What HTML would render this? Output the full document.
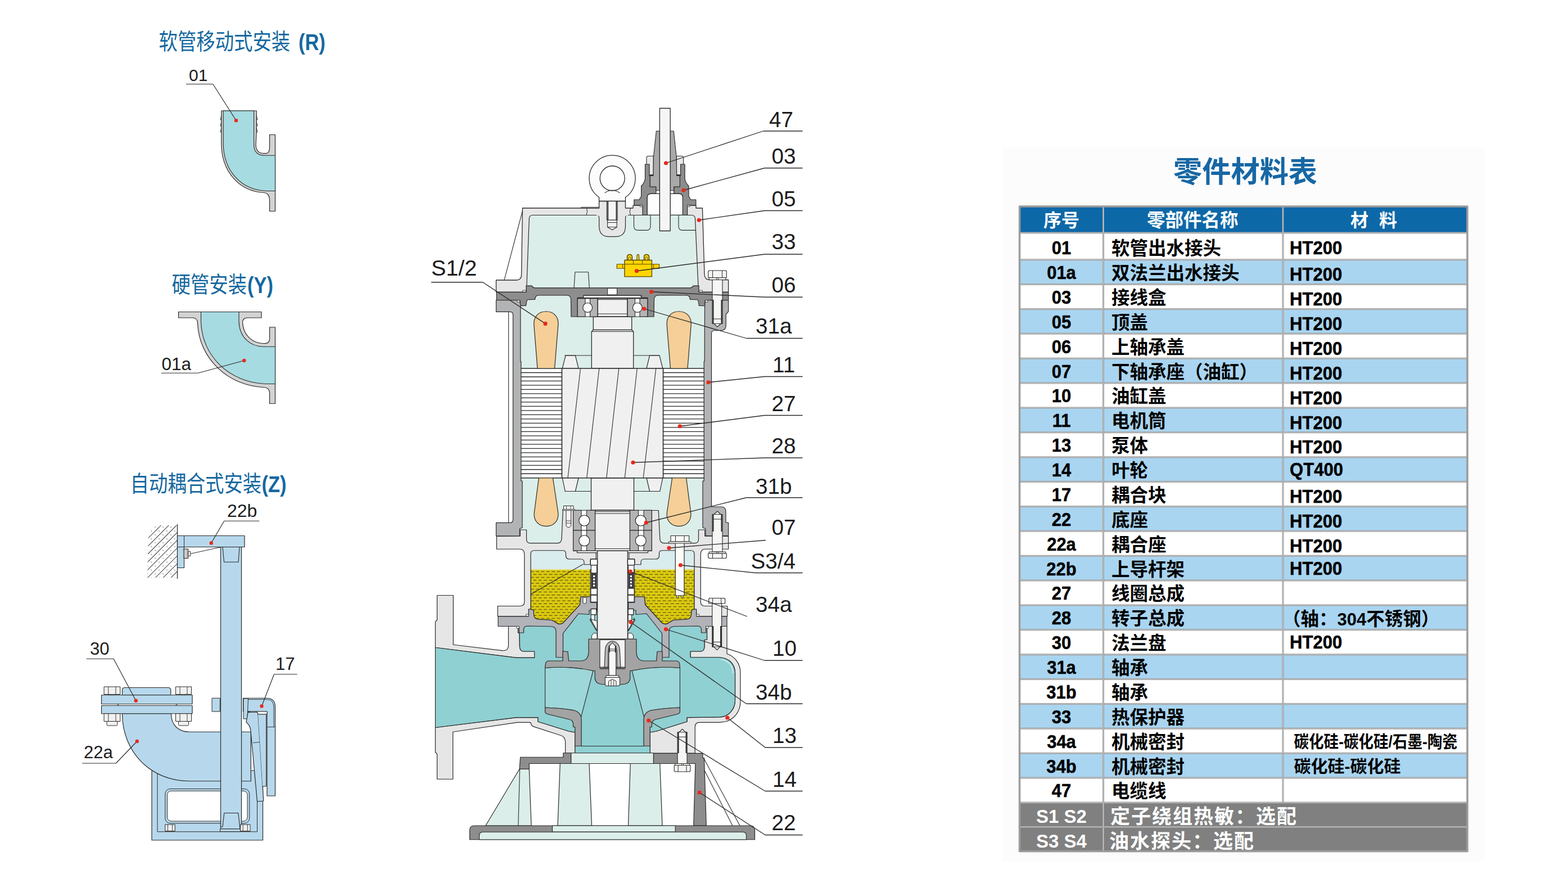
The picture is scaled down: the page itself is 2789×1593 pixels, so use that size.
<!DOCTYPE html>
<html lang="zh"><head><meta charset="utf-8"><title>零件材料表</title><style>html,body{margin:0;padding:0;background:#fff}body{width:2789px;height:1593px;overflow:hidden;font-family:"Liberation Sans","Noto Sans CJK SC",sans-serif}svg{display:block}</style></head><body><svg width="2789" height="1593" viewBox="0 0 2789 1593" font-family="'Liberation Sans', 'Noto Sans CJK SC', sans-serif" stroke-linejoin="round"><rect x="1783" y="262" width="858" height="1270" fill="#fcfcfc"/><rect x="1813.5" y="367" width="796.5" height="47" fill="#0d68a8" stroke="none" stroke-width="0"/><text x="1856" y="402.5" font-size="32" font-weight="bold" fill="#fff">序号</text><text x="2040" y="402.5" font-size="32.5" font-weight="bold" fill="#fff">零部件名称</text><text x="2402" y="402.5" font-size="32" font-weight="bold" fill="#fff">材</text><text x="2453" y="402.5" font-size="32" font-weight="bold" fill="#fff">料</text><rect x="1813.5" y="414" width="796.5" height="47.7" fill="#ffffff" stroke="none" stroke-width="0"/><text transform="translate(1888 451.7) scale(0.95 1)" font-size="32.6" font-weight="bold" fill="#000" stroke="#000" stroke-width="0.5" text-anchor="middle">01</text><text x="1977" y="452.7" font-size="32.5" font-weight="bold" fill="#000">软管出水接头</text><text transform="translate(2294 451.8) scale(0.96 1)" font-size="32.4" font-weight="bold" fill="#000" stroke="#000" stroke-width="0.5">HT200</text><rect x="1813.5" y="461.7" width="796.5" height="43.88" fill="#a9d5f1" stroke="none" stroke-width="0"/><text transform="translate(1888 496.0) scale(0.95 1)" font-size="32.6" font-weight="bold" fill="#000" stroke="#000" stroke-width="0.5" text-anchor="middle">01a</text><text x="1977" y="497.0" font-size="32.5" font-weight="bold" fill="#000">双法兰出水接头</text><text transform="translate(2294 499.3) scale(0.96 1)" font-size="32.4" font-weight="bold" fill="#000" stroke="#000" stroke-width="0.5">HT200</text><rect x="1813.5" y="505.58" width="796.5" height="43.87" fill="#ffffff" stroke="none" stroke-width="0"/><text transform="translate(1888 539.9) scale(0.95 1)" font-size="32.6" font-weight="bold" fill="#000" stroke="#000" stroke-width="0.5" text-anchor="middle">03</text><text x="1977" y="540.9" font-size="32.5" font-weight="bold" fill="#000">接线盒</text><text transform="translate(2294 543.2) scale(0.96 1)" font-size="32.4" font-weight="bold" fill="#000" stroke="#000" stroke-width="0.5">HT200</text><rect x="1813.5" y="549.45" width="796.5" height="43.88" fill="#a9d5f1" stroke="none" stroke-width="0"/><text transform="translate(1888 583.8) scale(0.95 1)" font-size="32.6" font-weight="bold" fill="#000" stroke="#000" stroke-width="0.5" text-anchor="middle">05</text><text x="1977" y="584.8" font-size="32.5" font-weight="bold" fill="#000">顶盖</text><text transform="translate(2294 587.1) scale(0.96 1)" font-size="32.4" font-weight="bold" fill="#000" stroke="#000" stroke-width="0.5">HT200</text><rect x="1813.5" y="593.33" width="796.5" height="43.88" fill="#ffffff" stroke="none" stroke-width="0"/><text transform="translate(1888 627.6) scale(0.95 1)" font-size="32.6" font-weight="bold" fill="#000" stroke="#000" stroke-width="0.5" text-anchor="middle">06</text><text x="1977" y="628.6" font-size="32.5" font-weight="bold" fill="#000">上轴承盖</text><text transform="translate(2294 630.9) scale(0.96 1)" font-size="32.4" font-weight="bold" fill="#000" stroke="#000" stroke-width="0.5">HT200</text><rect x="1813.5" y="637.21" width="796.5" height="43.88" fill="#a9d5f1" stroke="none" stroke-width="0"/><text transform="translate(1888 671.5) scale(0.95 1)" font-size="32.6" font-weight="bold" fill="#000" stroke="#000" stroke-width="0.5" text-anchor="middle">07</text><text x="1977" y="672.5" font-size="32.5" font-weight="bold" fill="#000">下轴承座（油缸）</text><text transform="translate(2294 674.8) scale(0.96 1)" font-size="32.4" font-weight="bold" fill="#000" stroke="#000" stroke-width="0.5">HT200</text><rect x="1813.5" y="681.09" width="796.5" height="43.87" fill="#ffffff" stroke="none" stroke-width="0"/><text transform="translate(1888 715.4) scale(0.95 1)" font-size="32.6" font-weight="bold" fill="#000" stroke="#000" stroke-width="0.5" text-anchor="middle">10</text><text x="1977" y="716.4" font-size="32.5" font-weight="bold" fill="#000">油缸盖</text><text transform="translate(2294 718.7) scale(0.96 1)" font-size="32.4" font-weight="bold" fill="#000" stroke="#000" stroke-width="0.5">HT200</text><rect x="1813.5" y="724.96" width="796.5" height="43.88" fill="#a9d5f1" stroke="none" stroke-width="0"/><text transform="translate(1888 759.3) scale(0.95 1)" font-size="32.6" font-weight="bold" fill="#000" stroke="#000" stroke-width="0.5" text-anchor="middle">11</text><text x="1977" y="760.3" font-size="32.5" font-weight="bold" fill="#000">电机筒</text><text transform="translate(2294 762.6) scale(0.96 1)" font-size="32.4" font-weight="bold" fill="#000" stroke="#000" stroke-width="0.5">HT200</text><rect x="1813.5" y="768.84" width="796.5" height="43.88" fill="#ffffff" stroke="none" stroke-width="0"/><text transform="translate(1888 803.1) scale(0.95 1)" font-size="32.6" font-weight="bold" fill="#000" stroke="#000" stroke-width="0.5" text-anchor="middle">13</text><text x="1977" y="804.1" font-size="32.5" font-weight="bold" fill="#000">泵体</text><text transform="translate(2294 806.4) scale(0.96 1)" font-size="32.4" font-weight="bold" fill="#000" stroke="#000" stroke-width="0.5">HT200</text><rect x="1813.5" y="812.72" width="796.5" height="43.88" fill="#a9d5f1" stroke="none" stroke-width="0"/><text transform="translate(1888 847.0) scale(0.95 1)" font-size="32.6" font-weight="bold" fill="#000" stroke="#000" stroke-width="0.5" text-anchor="middle">14</text><text x="1977" y="848.0" font-size="32.5" font-weight="bold" fill="#000">叶轮</text><text transform="translate(2294 846.2) scale(0.96 1)" font-size="32.4" font-weight="bold" fill="#000" stroke="#000" stroke-width="0.5">QT400</text><rect x="1813.5" y="856.6" width="796.5" height="43.87" fill="#ffffff" stroke="none" stroke-width="0"/><text transform="translate(1888 890.9) scale(0.95 1)" font-size="32.6" font-weight="bold" fill="#000" stroke="#000" stroke-width="0.5" text-anchor="middle">17</text><text x="1977" y="891.9" font-size="32.5" font-weight="bold" fill="#000">耦合块</text><text transform="translate(2294 894.2) scale(0.96 1)" font-size="32.4" font-weight="bold" fill="#000" stroke="#000" stroke-width="0.5">HT200</text><rect x="1813.5" y="900.47" width="796.5" height="43.88" fill="#a9d5f1" stroke="none" stroke-width="0"/><text transform="translate(1888 934.8) scale(0.95 1)" font-size="32.6" font-weight="bold" fill="#000" stroke="#000" stroke-width="0.5" text-anchor="middle">22</text><text x="1977" y="935.8" font-size="32.5" font-weight="bold" fill="#000">底座</text><text transform="translate(2294 938.1) scale(0.96 1)" font-size="32.4" font-weight="bold" fill="#000" stroke="#000" stroke-width="0.5">HT200</text><rect x="1813.5" y="944.35" width="796.5" height="43.88" fill="#ffffff" stroke="none" stroke-width="0"/><text transform="translate(1888 978.6) scale(0.95 1)" font-size="32.6" font-weight="bold" fill="#000" stroke="#000" stroke-width="0.5" text-anchor="middle">22a</text><text x="1977" y="979.6" font-size="32.5" font-weight="bold" fill="#000">耦合座</text><text transform="translate(2294 981.9) scale(0.96 1)" font-size="32.4" font-weight="bold" fill="#000" stroke="#000" stroke-width="0.5">HT200</text><rect x="1813.5" y="988.23" width="796.5" height="43.87" fill="#a9d5f1" stroke="none" stroke-width="0"/><text transform="translate(1888 1022.5) scale(0.95 1)" font-size="32.6" font-weight="bold" fill="#000" stroke="#000" stroke-width="0.5" text-anchor="middle">22b</text><text x="1977" y="1023.5" font-size="32.5" font-weight="bold" fill="#000">上导杆架</text><text transform="translate(2294 1021.7) scale(0.96 1)" font-size="32.4" font-weight="bold" fill="#000" stroke="#000" stroke-width="0.5">HT200</text><rect x="1813.5" y="1032.1" width="796.5" height="43.88" fill="#ffffff" stroke="none" stroke-width="0"/><text transform="translate(1888 1066.4) scale(0.95 1)" font-size="32.6" font-weight="bold" fill="#000" stroke="#000" stroke-width="0.5" text-anchor="middle">27</text><text x="1977" y="1067.4" font-size="32.5" font-weight="bold" fill="#000">线圈总成</text><rect x="1813.5" y="1075.98" width="796.5" height="43.88" fill="#a9d5f1" stroke="none" stroke-width="0"/><text transform="translate(1888 1110.3) scale(0.95 1)" font-size="32.6" font-weight="bold" fill="#000" stroke="#000" stroke-width="0.5" text-anchor="middle">28</text><text x="1977" y="1111.3" font-size="32.5" font-weight="bold" fill="#000">转子总成</text><text x="2281" y="1111.5" font-size="32.5" font-weight="bold" fill="#000">（轴：</text><text x="2378.5" y="1111.5" font-size="31" font-weight="bold" fill="#000">304</text><text x="2430.2" y="1111.5" font-size="32.5" font-weight="bold" fill="#000">不锈钢）</text><rect x="1813.5" y="1119.86" width="796.5" height="43.88" fill="#ffffff" stroke="none" stroke-width="0"/><text transform="translate(1888 1154.2) scale(0.95 1)" font-size="32.6" font-weight="bold" fill="#000" stroke="#000" stroke-width="0.5" text-anchor="middle">30</text><text x="1977" y="1155.2" font-size="32.5" font-weight="bold" fill="#000">法兰盘</text><text transform="translate(2294 1153.4) scale(0.96 1)" font-size="32.4" font-weight="bold" fill="#000" stroke="#000" stroke-width="0.5">HT200</text><rect x="1813.5" y="1163.74" width="796.5" height="43.87" fill="#a9d5f1" stroke="none" stroke-width="0"/><text transform="translate(1888 1198.0) scale(0.95 1)" font-size="32.6" font-weight="bold" fill="#000" stroke="#000" stroke-width="0.5" text-anchor="middle">31a</text><text x="1977" y="1199.0" font-size="32.5" font-weight="bold" fill="#000">轴承</text><rect x="1813.5" y="1207.61" width="796.5" height="43.88" fill="#ffffff" stroke="none" stroke-width="0"/><text transform="translate(1888 1241.9) scale(0.95 1)" font-size="32.6" font-weight="bold" fill="#000" stroke="#000" stroke-width="0.5" text-anchor="middle">31b</text><text x="1977" y="1242.9" font-size="32.5" font-weight="bold" fill="#000">轴承</text><rect x="1813.5" y="1251.49" width="796.5" height="43.88" fill="#a9d5f1" stroke="none" stroke-width="0"/><text transform="translate(1888 1285.8) scale(0.95 1)" font-size="32.6" font-weight="bold" fill="#000" stroke="#000" stroke-width="0.5" text-anchor="middle">33</text><text x="1977" y="1286.8" font-size="32.5" font-weight="bold" fill="#000">热保护器</text><rect x="1813.5" y="1295.37" width="796.5" height="43.88" fill="#ffffff" stroke="none" stroke-width="0"/><text transform="translate(1888 1329.7) scale(0.95 1)" font-size="32.6" font-weight="bold" fill="#000" stroke="#000" stroke-width="0.5" text-anchor="middle">34a</text><text x="1977" y="1330.7" font-size="32.5" font-weight="bold" fill="#000">机械密封</text><text transform="translate(2301.5 1329.0) scale(0.885 1)" font-size="30" font-weight="bold" fill="#000">碳化硅</text><text transform="translate(2381.2 1329.0) scale(0.885 1)" font-size="30" font-weight="bold" fill="#000">-</text><text transform="translate(2390.0 1329.0) scale(0.885 1)" font-size="30" font-weight="bold" fill="#000">碳化硅</text><text transform="translate(2469.6 1329.0) scale(0.885 1)" font-size="30" font-weight="bold" fill="#000">/</text><text transform="translate(2477.0 1329.0) scale(0.885 1)" font-size="30" font-weight="bold" fill="#000">石墨</text><text transform="translate(2530.1 1329.0) scale(0.885 1)" font-size="30" font-weight="bold" fill="#000">-</text><text transform="translate(2539.0 1329.0) scale(0.885 1)" font-size="30" font-weight="bold" fill="#000">陶瓷</text><rect x="1813.5" y="1339.25" width="796.5" height="43.87" fill="#a9d5f1" stroke="none" stroke-width="0"/><text transform="translate(1888 1373.5) scale(0.95 1)" font-size="32.6" font-weight="bold" fill="#000" stroke="#000" stroke-width="0.5" text-anchor="middle">34b</text><text x="1977" y="1374.5" font-size="32.5" font-weight="bold" fill="#000">机械密封</text><text x="2301.5" y="1372.8" font-size="30" font-weight="bold" fill="#000">碳化硅</text><text x="2391.5" y="1372.8" font-size="30" font-weight="bold" fill="#000">-</text><text x="2401.5" y="1372.8" font-size="30" font-weight="bold" fill="#000">碳化硅</text><rect x="1813.5" y="1383.12" width="796.5" height="43.88" fill="#ffffff" stroke="none" stroke-width="0"/><text transform="translate(1888 1417.4) scale(0.95 1)" font-size="32.6" font-weight="bold" fill="#000" stroke="#000" stroke-width="0.5" text-anchor="middle">47</text><text x="1977" y="1418.4" font-size="32.5" font-weight="bold" fill="#000">电缆线</text><rect x="1813.5" y="1427.0" width="796.5" height="86.5" fill="#808080" stroke="none" stroke-width="0"/><text x="1888" y="1463.0" font-size="33" font-weight="bold" fill="#fff" text-anchor="middle">S1 S2</text><text x="1888" y="1506.7" font-size="33" font-weight="bold" fill="#fff" text-anchor="middle">S3 S4</text><text x="1975" y="1464.0" font-size="35" font-weight="bold" fill="#fff" letter-spacing="2">定子绕组热敏：选配</text><text x="1973" y="1507.7" font-size="35" font-weight="bold" fill="#fff" letter-spacing="2">油水探头：选配</text><line x1="1813.5" y1="414" x2="2610" y2="414" stroke="#9c9c9c" stroke-width="3"/><line x1="1813.5" y1="414" x2="2610" y2="414" stroke="#c9c9c9" stroke-width="1"/><line x1="1813.5" y1="461.7" x2="2610" y2="461.7" stroke="#9c9c9c" stroke-width="3"/><line x1="1813.5" y1="461.7" x2="2610" y2="461.7" stroke="#c9c9c9" stroke-width="1"/><line x1="1813.5" y1="505.58" x2="2610" y2="505.58" stroke="#9c9c9c" stroke-width="3"/><line x1="1813.5" y1="505.58" x2="2610" y2="505.58" stroke="#c9c9c9" stroke-width="1"/><line x1="1813.5" y1="549.45" x2="2610" y2="549.45" stroke="#9c9c9c" stroke-width="3"/><line x1="1813.5" y1="549.45" x2="2610" y2="549.45" stroke="#c9c9c9" stroke-width="1"/><line x1="1813.5" y1="593.33" x2="2610" y2="593.33" stroke="#9c9c9c" stroke-width="3"/><line x1="1813.5" y1="593.33" x2="2610" y2="593.33" stroke="#c9c9c9" stroke-width="1"/><line x1="1813.5" y1="637.21" x2="2610" y2="637.21" stroke="#9c9c9c" stroke-width="3"/><line x1="1813.5" y1="637.21" x2="2610" y2="637.21" stroke="#c9c9c9" stroke-width="1"/><line x1="1813.5" y1="681.09" x2="2610" y2="681.09" stroke="#9c9c9c" stroke-width="3"/><line x1="1813.5" y1="681.09" x2="2610" y2="681.09" stroke="#c9c9c9" stroke-width="1"/><line x1="1813.5" y1="724.96" x2="2610" y2="724.96" stroke="#9c9c9c" stroke-width="3"/><line x1="1813.5" y1="724.96" x2="2610" y2="724.96" stroke="#c9c9c9" stroke-width="1"/><line x1="1813.5" y1="768.84" x2="2610" y2="768.84" stroke="#9c9c9c" stroke-width="3"/><line x1="1813.5" y1="768.84" x2="2610" y2="768.84" stroke="#c9c9c9" stroke-width="1"/><line x1="1813.5" y1="812.72" x2="2610" y2="812.72" stroke="#9c9c9c" stroke-width="3"/><line x1="1813.5" y1="812.72" x2="2610" y2="812.72" stroke="#c9c9c9" stroke-width="1"/><line x1="1813.5" y1="856.6" x2="2610" y2="856.6" stroke="#9c9c9c" stroke-width="3"/><line x1="1813.5" y1="856.6" x2="2610" y2="856.6" stroke="#c9c9c9" stroke-width="1"/><line x1="1813.5" y1="900.47" x2="2610" y2="900.47" stroke="#9c9c9c" stroke-width="3"/><line x1="1813.5" y1="900.47" x2="2610" y2="900.47" stroke="#c9c9c9" stroke-width="1"/><line x1="1813.5" y1="944.35" x2="2610" y2="944.35" stroke="#9c9c9c" stroke-width="3"/><line x1="1813.5" y1="944.35" x2="2610" y2="944.35" stroke="#c9c9c9" stroke-width="1"/><line x1="1813.5" y1="988.23" x2="2610" y2="988.23" stroke="#9c9c9c" stroke-width="3"/><line x1="1813.5" y1="988.23" x2="2610" y2="988.23" stroke="#c9c9c9" stroke-width="1"/><line x1="1813.5" y1="1032.1" x2="2610" y2="1032.1" stroke="#9c9c9c" stroke-width="3"/><line x1="1813.5" y1="1032.1" x2="2610" y2="1032.1" stroke="#c9c9c9" stroke-width="1"/><line x1="1813.5" y1="1075.98" x2="2610" y2="1075.98" stroke="#9c9c9c" stroke-width="3"/><line x1="1813.5" y1="1075.98" x2="2610" y2="1075.98" stroke="#c9c9c9" stroke-width="1"/><line x1="1813.5" y1="1119.86" x2="2610" y2="1119.86" stroke="#9c9c9c" stroke-width="3"/><line x1="1813.5" y1="1119.86" x2="2610" y2="1119.86" stroke="#c9c9c9" stroke-width="1"/><line x1="1813.5" y1="1163.74" x2="2610" y2="1163.74" stroke="#9c9c9c" stroke-width="3"/><line x1="1813.5" y1="1163.74" x2="2610" y2="1163.74" stroke="#c9c9c9" stroke-width="1"/><line x1="1813.5" y1="1207.61" x2="2610" y2="1207.61" stroke="#9c9c9c" stroke-width="3"/><line x1="1813.5" y1="1207.61" x2="2610" y2="1207.61" stroke="#c9c9c9" stroke-width="1"/><line x1="1813.5" y1="1251.49" x2="2610" y2="1251.49" stroke="#9c9c9c" stroke-width="3"/><line x1="1813.5" y1="1251.49" x2="2610" y2="1251.49" stroke="#c9c9c9" stroke-width="1"/><line x1="1813.5" y1="1295.37" x2="2610" y2="1295.37" stroke="#9c9c9c" stroke-width="3"/><line x1="1813.5" y1="1295.37" x2="2610" y2="1295.37" stroke="#c9c9c9" stroke-width="1"/><line x1="1813.5" y1="1339.25" x2="2610" y2="1339.25" stroke="#9c9c9c" stroke-width="3"/><line x1="1813.5" y1="1339.25" x2="2610" y2="1339.25" stroke="#c9c9c9" stroke-width="1"/><line x1="1813.5" y1="1383.12" x2="2610" y2="1383.12" stroke="#9c9c9c" stroke-width="3"/><line x1="1813.5" y1="1383.12" x2="2610" y2="1383.12" stroke="#c9c9c9" stroke-width="1"/><line x1="1813.5" y1="1427.0" x2="2610" y2="1427.0" stroke="#9c9c9c" stroke-width="3"/><line x1="1813.5" y1="1427.0" x2="2610" y2="1427.0" stroke="#c9c9c9" stroke-width="1"/><line x1="1813.5" y1="1470.2" x2="2610" y2="1470.2" stroke="#9c9c9c" stroke-width="3"/><line x1="1813.5" y1="1470.2" x2="2610" y2="1470.2" stroke="#c9c9c9" stroke-width="1"/><line x1="1962.5" y1="367" x2="1962.5" y2="1513.5" stroke="#9c9c9c" stroke-width="3"/><line x1="1962.5" y1="367" x2="1962.5" y2="1513.5" stroke="#c9c9c9" stroke-width="1"/><line x1="2282" y1="367" x2="2282" y2="1427.0" stroke="#9c9c9c" stroke-width="3"/><line x1="2282" y1="367" x2="2282" y2="1427.0" stroke="#c9c9c9" stroke-width="1"/><rect x="1813.5" y="367" width="796.5" height="1146.5" fill="none" stroke="#9c9c9c" stroke-width="3.5"/><text transform="translate(282.5 88) scale(0.835 1)" font-size="40" fill="#15689f">软管移动式安装</text><text transform="translate(531 89) scale(0.84 1)" font-size="41" font-weight="bold" fill="#15689f" text-anchor="start" >(R)</text><text transform="translate(305.5 520) scale(0.835 1)" font-size="40" fill="#15689f">硬管安装</text><text transform="translate(440 521) scale(0.84 1)" font-size="41" font-weight="bold" fill="#15689f" text-anchor="start" >(Y)</text><text transform="translate(231.5 873.5) scale(0.835 1)" font-size="40" fill="#15689f">自动耦合式安装</text><text transform="translate(465.5 874.5) scale(0.84 1)" font-size="41" font-weight="bold" fill="#15689f" text-anchor="start" >(Z)</text><text transform="translate(2087 324) scale(0.985 1)" font-size="52" font-weight="bold" fill="#1767a4">零件材料表</text><path d="M 393.75 197 L 456.25 197 L 456 238 L 455 258 Q 455.5 272 468 272.6 L 474 272.6 Q 479.5 272 479.5 262 L 479.5 239.5 L 489.5 239.5 L 489.5 375.5 L 479.5 375.5 L 479.5 355 Q 479 343.5 470 342.5 C 425 340 394 305 393.75 255 Z" fill="#d3d3d3" stroke="#2a2a2a" stroke-width="1.2" /><path d="M 397.2 197 L 451.6 197 L 451.6 258 Q 452 276 470 276.2 L 489.5 276.2 L 489.5 339.5 L 474 339.5 C 428 338 397.5 303 397.2 255 Z" fill="#a6dbe1" stroke="#2a2a2a" stroke-width="1.1" /><path d="M 393.75 205 L 392.3 213 L 393.75 214" fill="none" stroke="#2a2a2a" stroke-width="1" /><path d="M 456.25 205 L 457.7 213 L 456.25 214" fill="none" stroke="#2a2a2a" stroke-width="1" /><path d="M 393.75 216 L 392.3 224 L 393.75 225" fill="none" stroke="#2a2a2a" stroke-width="1" /><path d="M 456.25 216 L 457.7 224 L 456.25 225" fill="none" stroke="#2a2a2a" stroke-width="1" /><path d="M 393.75 227 L 392.3 235 L 393.75 236" fill="none" stroke="#2a2a2a" stroke-width="1" /><path d="M 456.25 227 L 457.7 235 L 456.25 236" fill="none" stroke="#2a2a2a" stroke-width="1" /><path d="M 317.5 554.5 L 465 554.5 L 465 565 L 440 565 Q 431 565.5 431.5 574 C 433 596 448 609 466 610.5 L 472 610.6 Q 479.5 610 479.5 602 L 479.5 581.75 L 489.5 581.75 L 489.5 717.5 L 479.5 717.5 L 479.5 698 Q 479 689.5 470 688.75 C 405 686 354 637 351.5 575 Q 351.5 565.5 343 565 L 317.5 565 Z" fill="#d3d3d3" stroke="#2a2a2a" stroke-width="1.2" /><path d="M 357.5 554.5 L 425 554.5 L 425 572 C 426 600 445 615.5 468 616.25 L 489.5 616.25 L 489.5 682.5 L 472 682.5 C 408 680 359 633 357.5 572 Z" fill="#a6dbe1" stroke="#2a2a2a" stroke-width="1.1" /><defs><pattern id="hat" width="9.8" height="9.8" patternUnits="userSpaceOnUse" patternTransform="rotate(-45)"><line x1="0" y1="0.5" x2="9.8" y2="0.5" stroke="#333" stroke-width="1"/><circle cx="3" cy="5.4" r="0.8" fill="#444"/></pattern><clipPath id="hatc"><path d="M264 946 L276 934 L315.5 934 L315.5 1027 L262 1027 Z"/></clipPath></defs><rect x="262" y="932" width="54" height="96" fill="url(#hat)" clip-path="url(#hatc)"/><line x1="315.5" y1="932" x2="315.5" y2="1029" stroke="#2a2a2a" stroke-width="1.3"/><path d="M 270 1370 L 467.5 1370 L 467.5 1493.75 L 270 1493.75 Z" fill="#b7d8ec" stroke="#2a2a2a" stroke-width="1.2" /><path d="M 280 1370 L 280 1478.75 L 457.5 1478.75 L 457.5 1370" fill="none" stroke="#2a2a2a" stroke-width="1" /><rect x="293.75" y="1402.5" width="150.0" height="61.25" rx="9" fill="#b7d8ec" stroke="#2a2a2a" stroke-width="1"/><rect x="297.5" y="1406.25" width="142.5" height="53.75" rx="7" fill="#fff" stroke="#2a2a2a" stroke-width="1"/><path d="M 217.5 1268.75 L 304.5 1268.75 C 304.5 1290 318 1301.25 337.5 1301.25 L 446.25 1301.25 L 446.25 1388.75 L 337.5 1388.75 C 268 1388.75 217.5 1337 217.5 1268.75 Z" fill="#b7d8ec" stroke="#2a2a2a" stroke-width="1.2" /><rect x="377" y="1241.25" width="14.25" height="23.75" fill="#b7d8ec" stroke="#2a2a2a" stroke-width="1"/><path d="M 432.5 1241.25 L 474 1241.25 Q 489.5 1241.25 489.5 1257 L 489.5 1415 L 475 1415 L 475 1265 L 432.5 1265 Z" fill="#b7d8ec" stroke="#2a2a2a" stroke-width="1.2" /><path d="M 442 1243.5 L 474 1243.5 Q 487 1243.5 487 1257 L 487 1292" fill="none" stroke="#2a2a2a" stroke-width="0.9" /><line x1="475" y1="1292.5" x2="489.5" y2="1292.5" stroke="#2a2a2a" stroke-width="0.9"/><path d="M 433 1242 L 441.5 1242 L 440 1278 L 433 1278 Z" fill="#b7d8ec" stroke="#2a2a2a" stroke-width="1" /><path d="M 441 1265 L 475 1265 L 475 1270 L 459 1270 L 447 1266.5 Z" fill="#fff" stroke="#2a2a2a" stroke-width="0.9" /><path d="M 441 1266.5 L 457.5 1266 L 459 1270 L 468.75 1424 L 457.5 1425 L 446 1300 Q 445.5 1290 438 1284 Z" fill="#b7d8ec" stroke="#2a2a2a" stroke-width="1.2" /><line x1="450" y1="1320.5" x2="462" y2="1319.5" stroke="#2a2a2a" stroke-width="0.9"/><path d="M 459 1270 L 473.5 1270 L 473.5 1398 L 467 1398" fill="#b7d8ec" stroke="#2a2a2a" stroke-width="1" /><rect x="392.5" y="972.5" width="37.0" height="502.5" fill="#b7d8ec" stroke="#2a2a2a" stroke-width="1.2"/><rect x="315.5" y="952.5" width="12.0" height="57.0" fill="#b7d8ec" stroke="#2a2a2a" stroke-width="1.1"/><rect x="315.5" y="952.5" width="119.5" height="20.0" fill="#b7d8ec" stroke="#2a2a2a" stroke-width="1.2"/><line x1="327.5" y1="952.5" x2="327.5" y2="972.5" stroke="#2a2a2a" stroke-width="1"/><path d="M 396 972.5 L 426 972.5 L 424 999.25 L 398.5 999.25 Z" fill="#b7d8ec" stroke="#2a2a2a" stroke-width="1.1" /><rect x="326.5" y="976" width="8.5" height="16.5" fill="#f1f1f1" stroke="#2a2a2a" stroke-width="1"/><line x1="328.795" y1="976" x2="328.795" y2="992.5" stroke="#2a2a2a" stroke-width="0.9"/><line x1="332.705" y1="976" x2="332.705" y2="992.5" stroke="#2a2a2a" stroke-width="0.9"/><rect x="335" y="980.5" width="3.75" height="8.0" fill="#f1f1f1" stroke="#2a2a2a" stroke-width="0.9"/><line x1="338.75" y1="984.5" x2="392.5" y2="972.8" stroke="#2a2a2a" stroke-width="1"/><path d="M 398.75 1445.5 L 423.75 1445.5 L 427 1473.75 L 392.5 1473.75 L 392.5 1470 L 396 1470 Z" fill="#b7d8ec" stroke="#2a2a2a" stroke-width="1.1" /><rect x="391.5" y="1473.75" width="36.5" height="4.75" fill="#b7d8ec" stroke="#2a2a2a" stroke-width="1"/><rect x="293.75" y="1466" width="17.5" height="11.5" fill="#f1f1f1" stroke="#2a2a2a" stroke-width="1"/><line x1="298.475" y1="1466" x2="298.475" y2="1477.5" stroke="#2a2a2a" stroke-width="0.9"/><line x1="306.525" y1="1466" x2="306.525" y2="1477.5" stroke="#2a2a2a" stroke-width="0.9"/><rect x="427.5" y="1466" width="17.5" height="11.5" fill="#f1f1f1" stroke="#2a2a2a" stroke-width="1"/><line x1="432.225" y1="1466" x2="432.225" y2="1477.5" stroke="#2a2a2a" stroke-width="0.9"/><line x1="440.275" y1="1466" x2="440.275" y2="1477.5" stroke="#2a2a2a" stroke-width="0.9"/><path d="M 217.5 1235.75 L 217.5 1227 Q 217.5 1222.5 222 1222.5 L 299 1222.5 Q 303.75 1222.5 303.75 1227 L 303.75 1235.75 Z" fill="#b7d8ec" stroke="#2a2a2a" stroke-width="1.2" /><rect x="180.5" y="1235.75" width="161.5" height="16.0" fill="#b7d8ec" stroke="#2a2a2a" stroke-width="1.2"/><rect x="180.5" y="1254.5" width="161.5" height="14.25" fill="#b7d8ec" stroke="#2a2a2a" stroke-width="1.2"/><path d="M 208 1251.75 L 212 1254.5 L 312 1254.5 L 316 1251.75" fill="none" stroke="#2a2a2a" stroke-width="1" /><rect x="185" y="1221" width="28.75" height="13.5" fill="#f1f1f1" stroke="#2a2a2a" stroke-width="1"/><line x1="192.7625" y1="1221" x2="192.7625" y2="1234.5" stroke="#2a2a2a" stroke-width="0.9"/><line x1="205.9875" y1="1221" x2="205.9875" y2="1234.5" stroke="#2a2a2a" stroke-width="0.9"/><rect x="196" y="1234.5" width="6.75" height="1.25" fill="#f1f1f1" stroke="#2a2a2a" stroke-width="0.8"/><rect x="185" y="1268.75" width="28.75" height="13.75" fill="#f1f1f1" stroke="#2a2a2a" stroke-width="1"/><line x1="192.7625" y1="1268.75" x2="192.7625" y2="1282.5" stroke="#2a2a2a" stroke-width="0.9"/><line x1="205.9875" y1="1268.75" x2="205.9875" y2="1282.5" stroke="#2a2a2a" stroke-width="0.9"/><rect x="190" y="1282.5" width="18.75" height="7.5" rx="1.5" fill="#f1f1f1" stroke="#2a2a2a" stroke-width="1"/><rect x="312.5" y="1221" width="28.0" height="13.5" fill="#f1f1f1" stroke="#2a2a2a" stroke-width="1"/><line x1="320.06" y1="1221" x2="320.06" y2="1234.5" stroke="#2a2a2a" stroke-width="0.9"/><line x1="332.94" y1="1221" x2="332.94" y2="1234.5" stroke="#2a2a2a" stroke-width="0.9"/><rect x="323.5" y="1234.5" width="6.0" height="1.25" fill="#f1f1f1" stroke="#2a2a2a" stroke-width="0.8"/><rect x="312.5" y="1268.75" width="28.0" height="13.75" fill="#f1f1f1" stroke="#2a2a2a" stroke-width="1"/><line x1="320.06" y1="1268.75" x2="320.06" y2="1282.5" stroke="#2a2a2a" stroke-width="0.9"/><line x1="332.94" y1="1268.75" x2="332.94" y2="1282.5" stroke="#2a2a2a" stroke-width="0.9"/><rect x="317.5" y="1282.5" width="18.0" height="7.5" rx="1.5" fill="#f1f1f1" stroke="#2a2a2a" stroke-width="1"/><path d="M 1257.5 1113.5 L 1293 1113.5 L 1293 1162.5 C 1306 1166 1316.9 1180 1316.9 1195 L 1316.9 1247.5 C 1316.9 1265 1306 1279 1290 1283 L 1280 1284.4 L 1244 1284.4 Q 1236.25 1284.4 1236.25 1292.5 L 1236.25 1339.4 L 1156.25 1339.4 L 1156.25 1302 L 1167.5 1300 L 1222 1283 L 1222 1275.6 L 1278.75 1275 C 1295 1275 1307.5 1262 1307.5 1245 L 1307.5 1197 C 1307.5 1182 1298 1169.5 1278.75 1168.75 L 1228 1168.75 L 1228 1158 L 1246 1158 Q 1252.5 1158 1253 1150 L 1253 1137.5 L 1257.5 1137.5 Z" fill="#e6e6e6" stroke="#2a2a2a" stroke-width="1.2" /><path d="M 777.5 1058.5 L 806.25 1058.5 L 806.25 1146.25 L 893 1156.6 Q 904.4 1158 904.4 1147 L 904.4 1113.5 L 921.5 1113.5 L 921.5 1125 L 924 1125 L 924.4 1150 Q 925 1158 931.25 1158 L 950.6 1158 L 950.6 1169.4 L 918.75 1169.4 L 774.4 1151.25 L 774.4 1105.5 L 777.5 1102.5 Z" fill="#e6e6e6" stroke="#2a2a2a" stroke-width="1.2" /><path d="M 774.4 1293.5 L 918.75 1275.6 L 956.9 1275.6 L 956.9 1283 L 1011.5 1300 L 1022.75 1302 L 1022.75 1339.4 L 1005.6 1339.4 L 1005.6 1318 Q 1004.5 1309.5 997.5 1307.5 L 948.5 1291.6 Q 945 1290 944.6 1286.5 Q 944.5 1284.4 942 1284.4 L 920 1284.4 L 805.6 1301.25 L 805.6 1385.25 L 777.5 1385.25 L 777.5 1340.5 L 774.4 1337.5 Z" fill="#e6e6e6" stroke="#2a2a2a" stroke-width="1.2" /><path d="M 774.4 1151.25 L 918.75 1169.4 L 950.6 1169.4 L 950.6 1158 L 931.25 1158 Q 925 1158 924.4 1150 L 924 1125 L 921.5 1125 L 921.5 1106 L 990 1108 L 1000 1118 L 1029 1083 L 1150 1083 L 1179 1118 L 1189 1108 L 1257.5 1106 L 1257.5 1137.5 L 1253 1137.5 L 1253 1150 Q 1252.5 1158 1246 1158 L 1228 1158 L 1228 1168.75 L 1278.75 1168.75 C 1298 1169.5 1307.5 1182 1307.5 1197 L 1307.5 1245 C 1307.5 1262 1295 1275 1278.75 1275 L 1222 1275.6 L 1222 1283 L 1167.5 1300 L 1156.25 1302 L 1156.25 1339.4 L 1022.75 1339.4 L 1022.75 1302 L 1011.5 1300 L 956.9 1283 L 956.9 1275.6 L 918.75 1275.6 L 774.4 1293.5 Z" fill="#8fd0d2" stroke="#2a2a2a" stroke-width="1.2" /><path d="M 1282 1172.5 C 1296 1174 1303.5 1184 1303.5 1197" fill="none" stroke="#c7e8ea" stroke-width="2" /><defs><pattern id="oilp" width="9.4" height="10.4" patternUnits="userSpaceOnUse" x="943" y="1013.5"><rect width="9.4" height="10.4" fill="#dccc0e"/><rect x="0.6" y="1.9" width="6" height="1.5" fill="#756417"/><rect x="5.3" y="7.1" width="4.1" height="1.5" fill="#756417"/><rect x="0" y="7.1" width="1.9" height="1.5" fill="#756417"/></pattern></defs><rect x="943" y="977" width="293" height="37" fill="#d9ecee"/><path d="M 1128.75 1012.5 L 1235 1012.5 L 1235 1083 L 1235.0 1083.0 L 1230.0 1085.0 L 1229.5 1092.5 Q 1229.0 1100.0 1222.5 1101.0 L 1197.5 1102.5 L 1190.0 1107.0 Q 1183.75 1112.0 1177.5 1107.5 L 1147.5 1075.0 L 1146.25 1061.0 L 1128.75 1061 Z" fill="url(#oilp)" stroke="#2a2a2a" stroke-width="1.1" /><path d="M 1050.25 1012.5 L 944 1012.5 L 944 1083 L 944 1083 L 949 1085 L 949.5 1092.5 Q 950 1100 956.5 1101 L 981.5 1102.5 L 989 1107 Q 995.25 1112 1001.5 1107.5 L 1031.5 1075 L 1032.75 1061 L 1050.25 1061 Z" fill="url(#oilp)" stroke="#2a2a2a" stroke-width="1.1" /><line x1="943.75" y1="1012.5" x2="1049" y2="1012.5" stroke="#e9e49a" stroke-width="1.6"/><line x1="1130" y1="1012.5" x2="1235" y2="1012.5" stroke="#e9e49a" stroke-width="1.6"/><line x1="1037.5" y1="1003" x2="943.75" y2="1056.75" stroke="#2a2a2a" stroke-width="1.1"/><rect x="924" y="522" width="330" height="446" fill="#dceee9"/><rect x="925.6" y="655" width="73.9" height="194.75" fill="#fff" stroke="#2a2a2a" stroke-width="1.3"/><line x1="925.6" y1="662.49" x2="999.5" y2="662.49" stroke="#2a2a2a" stroke-width="1.3"/><line x1="925.6" y1="669.98" x2="999.5" y2="669.98" stroke="#2a2a2a" stroke-width="1.3"/><line x1="925.6" y1="677.47" x2="999.5" y2="677.47" stroke="#2a2a2a" stroke-width="1.3"/><line x1="925.6" y1="684.96" x2="999.5" y2="684.96" stroke="#2a2a2a" stroke-width="1.3"/><line x1="925.6" y1="692.45" x2="999.5" y2="692.45" stroke="#2a2a2a" stroke-width="1.3"/><line x1="925.6" y1="699.94" x2="999.5" y2="699.94" stroke="#2a2a2a" stroke-width="1.3"/><line x1="925.6" y1="707.43" x2="999.5" y2="707.43" stroke="#2a2a2a" stroke-width="1.3"/><line x1="925.6" y1="714.92" x2="999.5" y2="714.92" stroke="#2a2a2a" stroke-width="1.3"/><line x1="925.6" y1="722.41" x2="999.5" y2="722.41" stroke="#2a2a2a" stroke-width="1.3"/><line x1="925.6" y1="729.9" x2="999.5" y2="729.9" stroke="#2a2a2a" stroke-width="1.3"/><line x1="925.6" y1="737.39" x2="999.5" y2="737.39" stroke="#2a2a2a" stroke-width="1.3"/><line x1="925.6" y1="744.88" x2="999.5" y2="744.88" stroke="#2a2a2a" stroke-width="1.3"/><line x1="925.6" y1="752.38" x2="999.5" y2="752.38" stroke="#2a2a2a" stroke-width="1.3"/><line x1="925.6" y1="759.87" x2="999.5" y2="759.87" stroke="#2a2a2a" stroke-width="1.3"/><line x1="925.6" y1="767.36" x2="999.5" y2="767.36" stroke="#2a2a2a" stroke-width="1.3"/><line x1="925.6" y1="774.85" x2="999.5" y2="774.85" stroke="#2a2a2a" stroke-width="1.3"/><line x1="925.6" y1="782.34" x2="999.5" y2="782.34" stroke="#2a2a2a" stroke-width="1.3"/><line x1="925.6" y1="789.83" x2="999.5" y2="789.83" stroke="#2a2a2a" stroke-width="1.3"/><line x1="925.6" y1="797.32" x2="999.5" y2="797.32" stroke="#2a2a2a" stroke-width="1.3"/><line x1="925.6" y1="804.81" x2="999.5" y2="804.81" stroke="#2a2a2a" stroke-width="1.3"/><line x1="925.6" y1="812.3" x2="999.5" y2="812.3" stroke="#2a2a2a" stroke-width="1.3"/><line x1="925.6" y1="819.79" x2="999.5" y2="819.79" stroke="#2a2a2a" stroke-width="1.3"/><line x1="925.6" y1="827.28" x2="999.5" y2="827.28" stroke="#2a2a2a" stroke-width="1.3"/><line x1="925.6" y1="834.77" x2="999.5" y2="834.77" stroke="#2a2a2a" stroke-width="1.3"/><line x1="925.6" y1="842.26" x2="999.5" y2="842.26" stroke="#2a2a2a" stroke-width="1.3"/><rect x="1179.5" y="655" width="73.1" height="194.75" fill="#fff" stroke="#2a2a2a" stroke-width="1.3"/><line x1="1179.5" y1="662.49" x2="1252.6" y2="662.49" stroke="#2a2a2a" stroke-width="1.3"/><line x1="1179.5" y1="669.98" x2="1252.6" y2="669.98" stroke="#2a2a2a" stroke-width="1.3"/><line x1="1179.5" y1="677.47" x2="1252.6" y2="677.47" stroke="#2a2a2a" stroke-width="1.3"/><line x1="1179.5" y1="684.96" x2="1252.6" y2="684.96" stroke="#2a2a2a" stroke-width="1.3"/><line x1="1179.5" y1="692.45" x2="1252.6" y2="692.45" stroke="#2a2a2a" stroke-width="1.3"/><line x1="1179.5" y1="699.94" x2="1252.6" y2="699.94" stroke="#2a2a2a" stroke-width="1.3"/><line x1="1179.5" y1="707.43" x2="1252.6" y2="707.43" stroke="#2a2a2a" stroke-width="1.3"/><line x1="1179.5" y1="714.92" x2="1252.6" y2="714.92" stroke="#2a2a2a" stroke-width="1.3"/><line x1="1179.5" y1="722.41" x2="1252.6" y2="722.41" stroke="#2a2a2a" stroke-width="1.3"/><line x1="1179.5" y1="729.9" x2="1252.6" y2="729.9" stroke="#2a2a2a" stroke-width="1.3"/><line x1="1179.5" y1="737.39" x2="1252.6" y2="737.39" stroke="#2a2a2a" stroke-width="1.3"/><line x1="1179.5" y1="744.88" x2="1252.6" y2="744.88" stroke="#2a2a2a" stroke-width="1.3"/><line x1="1179.5" y1="752.38" x2="1252.6" y2="752.38" stroke="#2a2a2a" stroke-width="1.3"/><line x1="1179.5" y1="759.87" x2="1252.6" y2="759.87" stroke="#2a2a2a" stroke-width="1.3"/><line x1="1179.5" y1="767.36" x2="1252.6" y2="767.36" stroke="#2a2a2a" stroke-width="1.3"/><line x1="1179.5" y1="774.85" x2="1252.6" y2="774.85" stroke="#2a2a2a" stroke-width="1.3"/><line x1="1179.5" y1="782.34" x2="1252.6" y2="782.34" stroke="#2a2a2a" stroke-width="1.3"/><line x1="1179.5" y1="789.83" x2="1252.6" y2="789.83" stroke="#2a2a2a" stroke-width="1.3"/><line x1="1179.5" y1="797.32" x2="1252.6" y2="797.32" stroke="#2a2a2a" stroke-width="1.3"/><line x1="1179.5" y1="804.81" x2="1252.6" y2="804.81" stroke="#2a2a2a" stroke-width="1.3"/><line x1="1179.5" y1="812.3" x2="1252.6" y2="812.3" stroke="#2a2a2a" stroke-width="1.3"/><line x1="1179.5" y1="819.79" x2="1252.6" y2="819.79" stroke="#2a2a2a" stroke-width="1.3"/><line x1="1179.5" y1="827.28" x2="1252.6" y2="827.28" stroke="#2a2a2a" stroke-width="1.3"/><line x1="1179.5" y1="834.77" x2="1252.6" y2="834.77" stroke="#2a2a2a" stroke-width="1.3"/><line x1="1179.5" y1="842.26" x2="1252.6" y2="842.26" stroke="#2a2a2a" stroke-width="1.3"/><path d="M 1192.5 655 L 1186.2 578 C 1185 562 1195 553.75 1207.7 553.75 C 1220 553.75 1230.3 562 1229.2 578 L 1223 655 Z" fill="#f5cf97" stroke="#2a2a2a" stroke-width="1.2" /><path d="M 986.5 655 L 992.8 578 C 994 562 984 553.75 971.3 553.75 C 959 553.75 948.7 562 949.8 578 L 956 655 Z" fill="#f5cf97" stroke="#2a2a2a" stroke-width="1.2" /><path d="M 1195.6 849.75 L 1186.2 912 C 1185 927 1195 935.6 1207.5 935.6 C 1220 935.6 1230 927 1228.8 912 L 1220.6 849.75 Z" fill="#f5cf97" stroke="#2a2a2a" stroke-width="1.2" /><path d="M 983.4 849.75 L 992.8 912 C 994 927 984 935.6 971.5 935.6 C 959 935.6 949 927 950.2 912 L 958.4 849.75 Z" fill="#f5cf97" stroke="#2a2a2a" stroke-width="1.2" /><path d="M 1155.6 632 L 1173 632 L 1178.75 655 L 1150 655 Z" fill="#f0f0f0" stroke="#2a2a2a" stroke-width="1.2" /><path d="M 1023.4 632 L 1006 632 L 1000.25 655 L 1029 655 Z" fill="#f0f0f0" stroke="#2a2a2a" stroke-width="1.2" /><path d="M 1150 849.75 L 1178.75 849.75 L 1173.75 873.5 L 1155.6 873.5 Z" fill="#f0f0f0" stroke="#2a2a2a" stroke-width="1.2" /><path d="M 1029 849.75 L 1000.25 849.75 L 1005.25 873.5 L 1023.4 873.5 Z" fill="#f0f0f0" stroke="#2a2a2a" stroke-width="1.2" /><line x1="1004.4" y1="632" x2="1173" y2="632" stroke="#2a2a2a" stroke-width="1.2"/><line x1="1004.4" y1="873.5" x2="1173.75" y2="873.5" stroke="#2a2a2a" stroke-width="1.2"/><rect x="1062.9" y="530.6" width="53.2" height="32.4" fill="#f0f0f0" stroke="#2a2a2a" stroke-width="1.3"/><line x1="1062.9" y1="532.5" x2="1116.1" y2="532.5" stroke="#2a2a2a" stroke-width="1"/><line x1="1062.9" y1="558" x2="1116.1" y2="558" stroke="#2a2a2a" stroke-width="1"/><rect x="1055.3" y="563" width="68.4" height="25" fill="#f0f0f0" stroke="#2a2a2a" stroke-width="1.3"/><path d="M 1055.3 586.5 L 1052.3 589.5 L 1052.3 655 L 1126.7 655 L 1126.7 589.5 L 1123.7 586.5 Z" fill="#f0f0f0" stroke="#2a2a2a" stroke-width="1.3" /><line x1="1052.3" y1="589.5" x2="1126.7" y2="589.5" stroke="#2a2a2a" stroke-width="1"/><rect x="1051.5" y="849.75" width="76.0" height="57.5" fill="#f0f0f0" stroke="#2a2a2a" stroke-width="1.3"/><rect x="1058.5" y="907.25" width="62.0" height="72.15" fill="#f0f0f0" stroke="#2a2a2a" stroke-width="1.3"/><line x1="1058.5" y1="909.5" x2="1120.5" y2="909.5" stroke="#2a2a2a" stroke-width="1"/><line x1="1058.5" y1="913" x2="1120.5" y2="913" stroke="#2a2a2a" stroke-width="1"/><line x1="1058.5" y1="975.5" x2="1120.5" y2="975.5" stroke="#2a2a2a" stroke-width="1"/><rect x="999.5" y="655" width="180.0" height="194.75" fill="#f0f0f0" stroke="#2a2a2a" stroke-width="1.5"/><line x1="1032.5" y1="655" x2="1010" y2="849.75" stroke="#2a2a2a" stroke-width="1.1"/><line x1="1065.75" y1="655" x2="1043.75" y2="849.75" stroke="#2a2a2a" stroke-width="1.1"/><line x1="1100.75" y1="655" x2="1078.75" y2="849.75" stroke="#2a2a2a" stroke-width="1.1"/><line x1="1133.25" y1="655" x2="1111.25" y2="849.75" stroke="#2a2a2a" stroke-width="1.1"/><line x1="1166.75" y1="655" x2="1144.25" y2="849.75" stroke="#2a2a2a" stroke-width="1.1"/><rect x="1116.1" y="530.6" width="35.8" height="32.4" fill="#fdfdfd" stroke="#2a2a2a" stroke-width="1.2"/><rect x="1116.1" y="530.6" width="13.4" height="32.4" fill="#b4b4b4" stroke="#2a2a2a" stroke-width="1.1"/><rect x="1138.0" y="530.6" width="13.9" height="32.4" fill="#b4b4b4" stroke="#2a2a2a" stroke-width="1.1"/><circle cx="1133.8" cy="546.9" r="8.4" fill="#fdfdfd" stroke="#2a2a2a" stroke-width="1.2"/><rect x="1027.1" y="530.6" width="35.8" height="32.4" fill="#fdfdfd" stroke="#2a2a2a" stroke-width="1.2"/><rect x="1049.5" y="530.6" width="13.4" height="32.4" fill="#b4b4b4" stroke="#2a2a2a" stroke-width="1.1"/><rect x="1027.1" y="530.6" width="13.9" height="32.4" fill="#b4b4b4" stroke="#2a2a2a" stroke-width="1.1"/><circle cx="1045.2" cy="546.9" r="8.4" fill="#fdfdfd" stroke="#2a2a2a" stroke-width="1.2"/><rect x="1120.5" y="907.25" width="39.0" height="35.75" fill="#fdfdfd" stroke="#2a2a2a" stroke-width="1.2"/><rect x="1120.5" y="907.25" width="15.0" height="35.75" fill="#b4b4b4" stroke="#2a2a2a" stroke-width="1.1"/><rect x="1145.0" y="907.25" width="14.5" height="35.75" fill="#b4b4b4" stroke="#2a2a2a" stroke-width="1.1"/><circle cx="1139.7" cy="925.5" r="9.5" fill="#fdfdfd" stroke="#2a2a2a" stroke-width="1.2"/><rect x="1120.5" y="943" width="39.0" height="36.4" fill="#fdfdfd" stroke="#2a2a2a" stroke-width="1.2"/><rect x="1120.5" y="943" width="15.0" height="36.4" fill="#b4b4b4" stroke="#2a2a2a" stroke-width="1.1"/><rect x="1145.0" y="943" width="14.5" height="36.4" fill="#b4b4b4" stroke="#2a2a2a" stroke-width="1.1"/><circle cx="1139.7" cy="961.25" r="9.5" fill="#fdfdfd" stroke="#2a2a2a" stroke-width="1.2"/><rect x="1019.5" y="907.25" width="39.0" height="35.75" fill="#fdfdfd" stroke="#2a2a2a" stroke-width="1.2"/><rect x="1043.5" y="907.25" width="15.0" height="35.75" fill="#b4b4b4" stroke="#2a2a2a" stroke-width="1.1"/><rect x="1019.5" y="907.25" width="14.5" height="35.75" fill="#b4b4b4" stroke="#2a2a2a" stroke-width="1.1"/><circle cx="1039.3" cy="925.5" r="9.5" fill="#fdfdfd" stroke="#2a2a2a" stroke-width="1.2"/><rect x="1019.5" y="943" width="39.0" height="36.4" fill="#fdfdfd" stroke="#2a2a2a" stroke-width="1.2"/><rect x="1043.5" y="943" width="15.0" height="36.4" fill="#b4b4b4" stroke="#2a2a2a" stroke-width="1.1"/><rect x="1019.5" y="943" width="14.5" height="36.4" fill="#b4b4b4" stroke="#2a2a2a" stroke-width="1.1"/><circle cx="1039.3" cy="961.25" r="9.5" fill="#fdfdfd" stroke="#2a2a2a" stroke-width="1.2"/><rect x="1026.5" y="979.4" width="126.0" height="3.2" fill="#fdfdfd" stroke="#2a2a2a" stroke-width="1"/><path d="M 929.4 370 L 1065.6 370 L 1065.6 357.5 L 1112.5 357.5 L 1112.5 370 L 1126 370 L 1126 365.3 L 1238 365.3 L 1238 370 L 1249.4 370 L 1253 488 Q 1253.5 497.5 1262.5 497.5 L 1295.6 497.5 L 1295.6 519.4 L 882.5 519.4 L 882.5 498 L 918.75 498 Q 927.5 497.5 927.5 489 Z" fill="#e6e6e6" stroke="#2a2a2a" stroke-width="1.3" /><line x1="929.4" y1="375" x2="896.9" y2="497.8" stroke="#2a2a2a" stroke-width="1.1"/><path d="M 947.5 382.5 L 1230 382.5 Q 1236.25 382.5 1236.5 389 L 1241.9 507 L 1241.9 513 L 936.9 513 L 936.9 507 L 941.25 389 Q 941.5 382.5 947.5 382.5 Z" fill="#dceee9" stroke="#2a2a2a" stroke-width="1.2" /><path d="M 1061 382.5 Q 1065.6 382.5 1065.6 387.5 L 1065.6 402 Q 1066 420.6 1083 420.6 L 1095 420.6 Q 1112.5 420.6 1112.5 402 L 1112.5 387.5 Q 1112.5 382.5 1117 382.5 Z" fill="#e6e6e6" stroke="none"/><path d="M 1061 382.5 Q 1065.6 382.5 1065.6 387.5 L 1065.6 402 Q 1066 420.6 1083 420.6 L 1095 420.6 Q 1112.5 420.6 1112.5 402 L 1112.5 387.5 Q 1112.5 382.5 1117 382.5" fill="none" stroke="#2a2a2a" stroke-width="1.2" /><rect x="1061" y="381" width="56" height="2.6" fill="#e6e6e6"/><path d="M 1127.5 382.5 L 1127.5 402 Q 1127.5 409.4 1135 409.4 L 1150 409.4 Q 1157 409.4 1157 402 L 1157 382.5" fill="none" stroke="#2a2a2a" stroke-width="1.1" /><path d="M 1207 382.5 L 1207 402 Q 1207 409.4 1214 409.4 L 1237.3 409.4" fill="none" stroke="#2a2a2a" stroke-width="1.1" /><rect x="1079.4" y="357.5" width="18.7" height="33.75" fill="#f6f6f6" stroke="#2a2a2a" stroke-width="1.1"/><line x1="1081.3" y1="357.5" x2="1081.3" y2="391.25" stroke="#2a2a2a" stroke-width="1.8"/><line x1="1096.4" y1="357.5" x2="1096.4" y2="391.25" stroke="#2a2a2a" stroke-width="1.8"/><path d="M 1080.6 391.25 L 1080.6 403.75 L 1089 408.75 L 1097.2 403.75 L 1097.2 391.25 Z" fill="#f6f6f6" stroke="#2a2a2a" stroke-width="1.1" /><line x1="1080.6" y1="395.6" x2="1097.2" y2="395.6" stroke="#2a2a2a" stroke-width="1"/><line x1="1080.6" y1="403.75" x2="1097.2" y2="403.75" stroke="#2a2a2a" stroke-width="1"/><path d="M 1043.75 370 Q 1045.5 376 1043 382.5" fill="none" stroke="#2a2a2a" stroke-width="1" /><path d="M 1121.5 370 Q 1119 376 1121.5 382.5" fill="none" stroke="#2a2a2a" stroke-width="1" /><rect x="1033.75" y="368.3" width="31.85" height="1.7" fill="#999" stroke="#2a2a2a" stroke-width="0.8"/><path d="M 1021 512 L 1022.8 483.75 L 1046.5 483.75 L 1048.3 512" fill="none" stroke="#2a2a2a" stroke-width="1.1" /><rect x="1243.3" y="516.2" width="6.1" height="3.2" fill="#fff" stroke="#2a2a2a" stroke-width="0.8"/><rect x="929.6" y="516.2" width="6.1" height="3.2" fill="#fff" stroke="#2a2a2a" stroke-width="0.8"/><path d="M 1115.6 466 L 1115.6 457 Q 1115.6 452.5 1120.0 452.5 Q 1124.3999999999999 452.5 1124.3999999999999 457 L 1124.3999999999999 466 Z" fill="#ffd500" stroke="#5a4a00" stroke-width="1.6" /><path d="M 1118.1999999999998 466 L 1118.1999999999998 458 Q 1120.0 455 1121.8 458 L 1121.8 466" fill="#ffe35a" stroke="#5a4a00" stroke-width="1" /><path d="M 1145.6 466 L 1145.6 457 Q 1145.6 452.5 1150.0 452.5 Q 1154.3999999999999 452.5 1154.3999999999999 457 L 1154.3999999999999 466 Z" fill="#ffd500" stroke="#5a4a00" stroke-width="1.6" /><path d="M 1148.1999999999998 466 L 1148.1999999999998 458 Q 1150.0 455 1151.8 458 L 1151.8 466" fill="#ffe35a" stroke="#5a4a00" stroke-width="1" /><path d="M 1132.5 463 L 1133.4 452.5 L 1136.2 452.5 L 1137 463 Z" fill="#ffd500" stroke="#5a4a00" stroke-width="1.2" /><rect x="1097.25" y="469.75" width="75.25" height="7.5" fill="#ffd500" stroke="#5a4a00" stroke-width="1.2"/><path d="M 1111 462.5 L 1159.4 462.5 L 1159.4 491.9 L 1111 491.9 Z" fill="#ffd500" stroke="#5a4a00" stroke-width="1.4" /><line x1="1111" y1="469.75" x2="1159.4" y2="469.75" stroke="#5a4a00" stroke-width="1"/><line x1="1126.5" y1="462.5" x2="1126.5" y2="469.75" stroke="#5a4a00" stroke-width="1"/><line x1="1142.5" y1="462.5" x2="1142.5" y2="469.75" stroke="#5a4a00" stroke-width="1"/><line x1="1107.5" y1="469.75" x2="1107.5" y2="477.25" stroke="#5a4a00" stroke-width="1"/><line x1="1162.5" y1="469.75" x2="1162.5" y2="477.25" stroke="#5a4a00" stroke-width="1"/><path d="M 1089.5 511.9 L 1228 511.9 Q 1231.5 511.5 1233 508.1 L 1243 508.1 L 1243 519.4 L 1295.6 519.4 L 1295.6 533.75 L 1254.4 533.75 L 1253.5 543.75 L 1243.4 543.4 Q 1242.5 533 1240 532.75 L 1227.5 532.4 Q 1227 525 1221 525 L 1171 525 Q 1163.5 525 1163.5 533 L 1163 563 L 1152 563 L 1152 529.4 L 1141 529.4 L 1141 525 L 1089.5 525 Z" fill="#8d8d8d" stroke="#8d8d8d" stroke-width="0.6"/><path d="M 1089.5 511.9 L 951 511.9 Q 947.5 511.5 946 508.1 L 936 508.1 L 936 519.4 L 883.4 519.4 L 883.4 533.75 L 924.6 533.75 L 925.5 543.75 L 935.6 543.4 Q 936.5 533 939 532.75 L 951.5 532.4 Q 952 525 958 525 L 1008 525 Q 1015.5 525 1015.5 533 L 1016 563 L 1027 563 L 1027 529.4 L 1038 529.4 L 1038 525 L 1089.5 525 Z" fill="#8d8d8d" stroke="#8d8d8d" stroke-width="0.6"/><path d="M 1089.5 511.9 L 1228 511.9 Q 1231.5 511.5 1233 508.1 L 1243 508.1 L 1243 519.4 L 1295.6 519.4 L 1295.6 533.75 L 1254.4 533.75 L 1253.5 543.75 L 1243.4 543.4 Q 1242.5 533 1240 532.75 L 1227.5 532.4 Q 1227 525 1221 525 L 1171 525 Q 1163.5 525 1163.5 533 L 1163 563 L 1152 563 L 1152 529.4 L 1141 529.4 L 1141 525 L 1089.5 525" fill="none" stroke="#2a2a2a" stroke-width="1.2" /><path d="M 1089.5 511.9 L 951 511.9 Q 947.5 511.5 946 508.1 L 936 508.1 L 936 519.4 L 883.4 519.4 L 883.4 533.75 L 924.6 533.75 L 925.5 543.75 L 935.6 543.4 Q 936.5 533 939 532.75 L 951.5 532.4 Q 952 525 958 525 L 1008 525 Q 1015.5 525 1015.5 533 L 1016 563 L 1027 563 L 1027 529.4 L 1038 529.4 L 1038 525 L 1089.5 525" fill="none" stroke="#2a2a2a" stroke-width="1.2" /><rect x="1080.6" y="512.6" width="16.9" height="11.4" fill="#fdfdfd" stroke="#2a2a2a" stroke-width="1"/><path d="M 1037 529.4 L 1039 525.4 L 1139 525.4 L 1141 529.4 Z" fill="#fdfdfd" stroke="#2a2a2a" stroke-width="1" /><path d="M 1254.4 533.75 L 1295.6 533.75 L 1295.6 553.75 L 1291.25 558.75 L 1291.25 579 Q 1291 587.5 1282 587.5 L 1271 587.5 Q 1265.5 587.5 1265.5 593 L 1265.5 901 L 1283.75 901 Q 1291 901.5 1291 910 L 1291 928.75 L 1295.6 929.4 L 1295.6 952.5 L 1255 952.5 L 1255 940 L 1250 938 L 1250 855 L 1252.2 855 L 1252.2 642.5 L 1253.2 642.5 L 1253.5 543.75 Z" fill="#b2b3b5" stroke="#2a2a2a" stroke-width="1.2" /><path d="M 882.5 533.75 L 924.6 533.75 L 925.8 543.75 L 925.8 642.5 L 926.8 642.5 L 926.8 855 L 929 855 L 929 938 L 924.4 940 L 924.4 953 L 882.5 953 L 882.5 929.4 L 907 929.4 Q 912.5 929.4 912.5 924 L 912.5 560 Q 912.5 554.4 907 554.4 L 882.5 554.4 Z" fill="#b2b3b5" stroke="#2a2a2a" stroke-width="1.2" /><line x1="904.6" y1="555" x2="904.6" y2="929" stroke="#2a2a2a" stroke-width="1.1"/><rect x="1254.5" y="533.75" width="4.5" height="3.25" fill="#fff" stroke="#2a2a2a" stroke-width="0.8"/><rect x="920" y="533.75" width="4.5" height="3.25" fill="#fff" stroke="#2a2a2a" stroke-width="0.8"/><rect x="1250.5" y="948.5" width="4.5" height="3.5" fill="#fff" stroke="#2a2a2a" stroke-width="0.8"/><rect x="924.5" y="949.5" width="4.5" height="3.5" fill="#fff" stroke="#2a2a2a" stroke-width="0.8"/><path d="M 1203.3 277.5 L 1212.8 277.5 Q 1215.6 277.5 1215.6 281 L 1215.6 311.25 L 1203.3 311.25 Z" fill="#e9e9e9" stroke="#2a2a2a" stroke-width="1.1" /><path d="M 1162.3 277.5 L 1152.8 277.5 Q 1150 277.5 1150 281 L 1150 311.25 L 1162.3 311.25 Z" fill="#e9e9e9" stroke="#2a2a2a" stroke-width="1.1" /><path d="M 1218.1 292 L 1218.1 318 Q 1218.8 324 1225.0 331 L 1225.0 349 L 1228.6 355 L 1237.8 355 L 1237.8 365 L 1222.6 365 L 1222.6 382.4 L 1214.3 382.4 L 1214.3 351 Q 1214.3 344.4 1207.8 344.4 L 1198.7 344.4 L 1198.7 332 L 1209.3 332 L 1209.3 312.5 L 1210.6 312.5 L 1210.6 292 Z" fill="#8d8d8d" stroke="#2a2a2a" stroke-width="1.2" /><path d="M 1147.5 292 L 1147.5 318 Q 1146.8 324 1140.6 331 L 1140.6 349 L 1137 355 L 1127.8 355 L 1127.8 365 L 1143 365 L 1143 382.4 L 1151.3 382.4 L 1151.3 351 Q 1151.3 344.4 1157.8 344.4 L 1166.9 344.4 L 1166.9 332 L 1156.3 332 L 1156.3 312.5 L 1155 312.5 L 1155 292 Z" fill="#8d8d8d" stroke="#2a2a2a" stroke-width="1.2" /><path d="M 1192.2 344.4 L 1207.8 344.4 Q 1214.3 344.4 1214.3 351 L 1214.3 382.4 L 1192.2 382.4 Z" fill="#fdfdfd" stroke="#2a2a2a" stroke-width="1.1" /><path d="M 1173.4 344.4 L 1157.8 344.4 Q 1151.3 344.4 1151.3 351 L 1151.3 382.4 L 1173.4 382.4 Z" fill="#fdfdfd" stroke="#2a2a2a" stroke-width="1.1" /><path d="M 1192.2 233 L 1198.3 233 L 1199.0 240 L 1203.1 278 L 1203.7 312.5 L 1209.3 312.5 L 1209.3 332 L 1198.7 332 L 1198.7 338.75 L 1192.2 338.75 Z" fill="#a9a9a9" stroke="#2a2a2a" stroke-width="1.1" /><path d="M 1173.4 233 L 1167.3 233 L 1166.6 240 L 1162.5 278 L 1161.9 312.5 L 1156.3 312.5 L 1156.3 332 L 1166.9 332 L 1166.9 338.75 L 1173.4 338.75 Z" fill="#a9a9a9" stroke="#2a2a2a" stroke-width="1.1" /><line x1="1203.7" y1="311.25" x2="1209.3" y2="311.25" stroke="#2a2a2a" stroke-width="2"/><line x1="1161.8999999999999" y1="311.25" x2="1156.3" y2="311.25" stroke="#2a2a2a" stroke-width="2"/><rect x="1173.3999999999999" y="192.5" width="18.8" height="218.0" fill="#f5f5f5" stroke="#2a2a2a" stroke-width="1.3"/><rect x="1138.5" y="365" width="4.5" height="2.5" fill="#fff" stroke="#2a2a2a" stroke-width="0.8"/><rect x="1222.6" y="365" width="4.4" height="2.5" fill="#fff" stroke="#2a2a2a" stroke-width="0.8"/><path d="M 1065.6 357.5 L 1065.6 350.8 A 41 41 0 1 1 1112.5 350.8 L 1112.5 357.5 Z" fill="#fcfcfc" stroke="#2a2a2a" stroke-width="1.3" /><circle cx="1089.2" cy="317" r="22" fill="#fff" stroke="#2a2a2a" stroke-width="1.3"/><path d="M 1075.6 343 Q 1089 333.5 1102.5 343" fill="none" stroke="#2a2a2a" stroke-width="1.1" /><path d="M 1128.75 1061 L 1146.25 1061 L 1147.5 1075 L 1177.5 1107.5 Q 1183.75 1112 1190 1107 L 1197.5 1102.5 L 1222.5 1101 Q 1229 1100 1229.5 1092.5 L 1230 1085 L 1235 1083 L 1238.75 1083 L 1238.75 1095.6 L 1293 1095.6 L 1293 1113.5 L 1255.6 1113.5 L 1255.6 1125 L 1247.5 1125 L 1247.5 1118.75 Q 1247 1113.5 1241.25 1113 L 1199 1113.75 Q 1190 1114 1190 1123 L 1190 1168.75 L 1177.5 1168.75 L 1177.5 1126 L 1150 1091 L 1131 1092.5 L 1131 1085 L 1117.5 1085 L 1117.5 1071.25 L 1128.75 1071.25 Z" fill="#b2b3b8" stroke="#2a2a2a" stroke-width="1.2" /><path d="M 1050.25 1061 L 1032.75 1061 L 1031.5 1075 L 1001.5 1107.5 Q 995.25 1112 989 1107 L 981.5 1102.5 L 956.5 1101 Q 950 1100 949.5 1092.5 L 949 1085 L 944 1083 L 940.25 1083 L 940.25 1095.6 L 886 1095.6 L 886 1113.5 L 923.4 1113.5 L 923.4 1125 L 931.5 1125 L 931.5 1118.75 Q 932 1113.5 937.75 1113 L 980 1113.75 Q 989 1114 989 1123 L 989 1168.75 L 1001.5 1168.75 L 1001.5 1126 L 1029 1091 L 1048 1092.5 L 1048 1085 L 1061.5 1085 L 1061.5 1071.25 L 1050.25 1071.25 Z" fill="#b2b3b8" stroke="#2a2a2a" stroke-width="1.2" /><rect x="1255.6" y="1113.5" width="4.4" height="3.5" fill="#fff" stroke="#2a2a2a" stroke-width="0.8"/><rect x="919" y="1113.5" width="4.4" height="3.5" fill="#fff" stroke="#2a2a2a" stroke-width="0.8"/><path d="M 1037 1062 L 1037 1072 Q 1040 1075 1043 1072 L 1043 1062 Z" fill="#f3f3f3" stroke="#2a2a2a" stroke-width="0.9" /><path d="M 1159.4 907.5 L 1171.25 907.5 L 1173.75 957.5 Q 1174 965.6 1181 965.6 L 1236 965.6 Q 1242.5 965.6 1242.5 959 L 1242.5 942 L 1253.75 942 L 1253.75 953.1 L 1295.6 953.3 L 1295.6 976.25 L 1255 976.25 Q 1246.25 976.25 1246.25 985 L 1246.25 1070 Q 1246.25 1077.5 1254 1077.5 L 1293.75 1077.5 L 1293.75 1095.6 L 1238.75 1095.6 L 1238.75 1083 L 1235 1083 L 1235 985 Q 1235 978.75 1229 978.75 L 1178 978.75 Q 1172.5 978.75 1172.5 984 L 1172.5 988 Q 1172.5 994 1166 994 L 1146 994 Q 1140 994 1140 1000 L 1140 1003.75 L 1128.75 1003.75 L 1128.75 994 L 1118.75 994 L 1118.75 982.6 L 1152.5 982.6 L 1152.5 979.4 L 1159.4 979.4 Z" fill="#e6e6e6" stroke="#2a2a2a" stroke-width="1.2" /><path d="M 1019.6 907.5 L 1001.25 907.5 L 999 957.5 Q 998.5 965.6 992 965.6 L 943 965.6 Q 936.5 965.6 936.5 959 L 936.5 942 L 925.25 942 L 925.25 953.1 L 883.4 953.3 L 883.4 976.25 L 924 976.25 Q 932.75 976.25 932.75 985 L 932.75 1070 Q 932.75 1077.5 925 1077.5 L 885.25 1077.5 L 885.25 1095.6 L 940.25 1095.6 L 940.25 1083 L 944 1083 L 944 985 Q 944 978.75 950 978.75 L 1001 978.75 Q 1006.5 978.75 1006.5 984 L 1006.5 988 Q 1006.5 994 1013 994 L 1033 994 Q 1039 994 1039 1000 L 1039 1003.75 L 1050.25 1003.75 L 1050.25 994 L 1060.25 994 L 1060.25 982.6 L 1026.5 982.6 L 1026.5 979.4 L 1019.6 979.4 Z" fill="#e6e6e6" stroke="#2a2a2a" stroke-width="1.2" /><rect x="1002.5" y="899.4" width="17.5" height="6.6" fill="#f6f6f4" stroke="#2a2a2a" stroke-width="1"/><rect x="1000.6" y="905.5" width="21.9" height="2.0" fill="#f6f6f4" stroke="#2a2a2a" stroke-width="0.9"/><path d="M 1007 907.5 L 1007 935 Q 1011.3 940.5 1015.6 935 L 1015.6 907.5 Z" fill="#f6f6f4" stroke="#2a2a2a" stroke-width="1" /><line x1="1007" y1="926" x2="1015.6" y2="926" stroke="#2a2a2a" stroke-width="0.9"/><line x1="1007" y1="930" x2="1015.6" y2="930" stroke="#2a2a2a" stroke-width="0.9"/><line x1="1007.5" y1="899.4" x2="1007.5" y2="906" stroke="#2a2a2a" stroke-width="0.8"/><line x1="1015" y1="899.4" x2="1015" y2="906" stroke="#2a2a2a" stroke-width="0.8"/><rect x="1238.8" y="1092" width="4.7" height="3.6" fill="#fff" stroke="#2a2a2a" stroke-width="0.8"/><rect x="935.5" y="1092" width="4.7" height="3.6" fill="#fff" stroke="#2a2a2a" stroke-width="0.8"/><rect x="1062.6" y="979.4" width="53.8" height="156.85" fill="#f0f0f0" stroke="#2a2a2a" stroke-width="1.3"/><rect x="1116.4" y="994" width="12.3" height="11" rx="1.5" fill="#fbfbfb" stroke="#2a2a2a" stroke-width="1.4"/><rect x="1117.4" y="1005" width="10.3" height="14" fill="#fbfbfb" stroke="#2a2a2a" stroke-width="1.2"/><rect x="1117.9" y="1019" width="9.3" height="26" fill="#3c3c46" stroke="#2a2a2a" stroke-width="1"/><rect x="1120.8000000000002" y="1023" width="3.2" height="3.2" fill="#fff" stroke="none" stroke-width="0"/><rect x="1120.8000000000002" y="1028.5" width="3.2" height="3.2" fill="#fff" stroke="none" stroke-width="0"/><rect x="1120.8000000000002" y="1034" width="3.2" height="3.2" fill="#fff" stroke="none" stroke-width="0"/><rect x="1120.8000000000002" y="1039.5" width="3.2" height="3.2" fill="#fff" stroke="none" stroke-width="0"/><rect x="1116.9" y="1046" width="11.3" height="11.5" fill="#fbfbfb" stroke="#2a2a2a" stroke-width="1.3"/><rect x="1116.9" y="1058" width="11.3" height="12.5" fill="#fbfbfb" stroke="#2a2a2a" stroke-width="1.3"/><rect x="1117.2" y="1082.5" width="9.5" height="10.5" fill="#fbfbfb" stroke="#2a2a2a" stroke-width="1.3"/><rect x="1117.2" y="1093" width="6.5" height="11" fill="#fbfbfb" stroke="#2a2a2a" stroke-width="1.1"/><path d="M 1128.0 1101 L 1117.0 1121 L 1117.0 1104 Z" fill="#fdfdfd" stroke="#2a2a2a" stroke-width="1" /><path d="M 1127.0 1099 L 1129.5 1102 L 1117.5 1122" fill="none" stroke="#2a2a2a" stroke-width="1.3" /><path d="M 1117.0 1126 L 1123.0 1125.5 L 1126.5 1130 L 1126.5 1136 L 1117.0 1136 Z" fill="#fdfdfd" stroke="#2a2a2a" stroke-width="1" /><rect x="1050.3" y="994" width="12.3" height="11" rx="1.5" fill="#fbfbfb" stroke="#2a2a2a" stroke-width="1.4"/><rect x="1051.3" y="1005" width="10.3" height="14" fill="#fbfbfb" stroke="#2a2a2a" stroke-width="1.2"/><rect x="1051.8" y="1019" width="9.3" height="26" fill="#3c3c46" stroke="#2a2a2a" stroke-width="1"/><rect x="1054.9999999999998" y="1023" width="3.2" height="3.2" fill="#fff" stroke="none" stroke-width="0"/><rect x="1054.9999999999998" y="1028.5" width="3.2" height="3.2" fill="#fff" stroke="none" stroke-width="0"/><rect x="1054.9999999999998" y="1034" width="3.2" height="3.2" fill="#fff" stroke="none" stroke-width="0"/><rect x="1054.9999999999998" y="1039.5" width="3.2" height="3.2" fill="#fff" stroke="none" stroke-width="0"/><rect x="1050.8" y="1046" width="11.3" height="11.5" fill="#fbfbfb" stroke="#2a2a2a" stroke-width="1.3"/><rect x="1050.8" y="1058" width="11.3" height="12.5" fill="#fbfbfb" stroke="#2a2a2a" stroke-width="1.3"/><rect x="1051.1" y="1082.5" width="9.5" height="10.5" fill="#fbfbfb" stroke="#2a2a2a" stroke-width="1.3"/><rect x="1051.1" y="1093" width="6.5" height="11" fill="#fbfbfb" stroke="#2a2a2a" stroke-width="1.1"/><path d="M 1051.0 1101 L 1062.0 1121 L 1062.0 1104 Z" fill="#fdfdfd" stroke="#2a2a2a" stroke-width="1" /><path d="M 1052.0 1099 L 1049.5 1102 L 1061.5 1122" fill="none" stroke="#2a2a2a" stroke-width="1.3" /><path d="M 1062.0 1126 L 1056.0 1125.5 L 1052.5 1130 L 1052.5 1136 L 1062.0 1136 Z" fill="#fdfdfd" stroke="#2a2a2a" stroke-width="1" /><path d="M 1124 1192.5 Q 1165 1183.5 1209.4 1187.5 L 1209.4 1258 Q 1180 1259 1158 1263 Q 1148 1266 1145.5 1275 Z" fill="#9dd7d9" stroke="#2a2a2a" stroke-width="1.1" /><path d="M 1055 1192.5 Q 1014 1183.5 969.6 1187.5 L 969.6 1258 Q 999 1259 1021 1263 Q 1031 1266 1033.5 1275 Z" fill="#9dd7d9" stroke="#2a2a2a" stroke-width="1.1" /><path d="M 1089.5 1136.25 L 1131.9 1136.25 L 1131.9 1160 Q 1133 1175 1146 1175 L 1167.5 1175 L 1169 1158.5 L 1178 1158 L 1178 1175 L 1202.5 1175 Q 1208.75 1175.5 1208.75 1181 L 1209.4 1187.5 Q 1165 1183.5 1124 1192.5 L 1120.75 1192.5 L 1120.75 1207 Q 1119 1216.75 1106 1216.75 L 1089.5 1216.75 Z" fill="#a3a3a3" stroke="#a3a3a3" stroke-width="0.6"/><path d="M 1089.5 1136.25 L 1047.1 1136.25 L 1047.1 1160 Q 1046 1175 1033 1175 L 1011.5 1175 L 1010 1158.5 L 1001 1158 L 1001 1175 L 976.5 1175 Q 970.25 1175.5 970.25 1181 L 969.6 1187.5 Q 1014 1183.5 1055 1192.5 L 1058.25 1192.5 L 1058.25 1207 Q 1060 1216.75 1073 1216.75 L 1089.5 1216.75 Z" fill="#a3a3a3" stroke="#a3a3a3" stroke-width="0.6"/><path d="M 1089.5 1136.25 L 1131.9 1136.25 L 1131.9 1160 Q 1133 1175 1146 1175 L 1167.5 1175 L 1169 1158.5 L 1178 1158 L 1178 1175 L 1202.5 1175 Q 1208.75 1175.5 1208.75 1181 L 1209.4 1187.5 Q 1165 1183.5 1124 1192.5 L 1120.75 1192.5 L 1120.75 1207 Q 1119 1216.75 1106 1216.75 L 1089.5 1216.75" fill="none" stroke="#2a2a2a" stroke-width="1.2" /><path d="M 1089.5 1136.25 L 1047.1 1136.25 L 1047.1 1160 Q 1046 1175 1033 1175 L 1011.5 1175 L 1010 1158.5 L 1001 1158 L 1001 1175 L 976.5 1175 Q 970.25 1175.5 970.25 1181 L 969.6 1187.5 Q 1014 1183.5 1055 1192.5 L 1058.25 1192.5 L 1058.25 1207 Q 1060 1216.75 1073 1216.75 L 1089.5 1216.75" fill="none" stroke="#2a2a2a" stroke-width="1.2" /><path d="M 1209.4 1258 Q 1180 1259 1158 1263 Q 1146 1266 1145 1278 L 1145 1326.25 L 1156.25 1326.25 L 1156.25 1292.5 L 1159.4 1292.5 L 1159.4 1287 Q 1160 1280 1167.5 1278.75 L 1203.75 1270 Q 1209.4 1268 1209.4 1266 Z" fill="#a3a3a3" stroke="#2a2a2a" stroke-width="1.2" /><path d="M 969.6 1258 Q 999 1259 1021 1263 Q 1033 1266 1034 1278 L 1034 1326.25 L 1022.75 1326.25 L 1022.75 1292.5 L 1019.6 1292.5 L 1019.6 1287 Q 1019 1280 1011.5 1278.75 L 975.25 1270 Q 969.6 1268 969.6 1266 Z" fill="#a3a3a3" stroke="#2a2a2a" stroke-width="1.2" /><rect x="1066.9" y="1137.5" width="45.0" height="50.0" fill="#f3f3f3" stroke="#2a2a2a" stroke-width="1.2"/><path d="M 1075 1187.5 L 1076.5 1155 Q 1078 1141 1089.3 1140 Q 1101 1141 1102.3 1155 L 1104 1187.5 L 1097.5 1187.5 L 1097 1157 Q 1095.5 1146.5 1089.3 1146.5 Q 1083 1146.5 1082 1157 L 1081.5 1187.5 Z" fill="#b9b9b9" stroke="#2a2a2a" stroke-width="1.1" /><line x1="1066.9" y1="1186" x2="1111.9" y2="1186" stroke="#2a2a2a" stroke-width="1"/><line x1="1066.9" y1="1189.2" x2="1111.9" y2="1189.2" stroke="#2a2a2a" stroke-width="1"/><path d="M 1083 1201 L 1083 1149 L 1085.5 1147 L 1089.3 1142.5 L 1093 1147 L 1095.6 1149 L 1095.6 1201 Z" fill="#f8f8f6" stroke="#2a2a2a" stroke-width="1.1" /><line x1="1083" y1="1157" x2="1095.6" y2="1157" stroke="#2a2a2a" stroke-width="1"/><line x1="1083" y1="1154" x2="1095.6" y2="1154" stroke="#2a2a2a" stroke-width="1"/><line x1="1084" y1="1149" x2="1084" y2="1160" stroke="#2a2a2a" stroke-width="1.6"/><line x1="1094.6" y1="1149" x2="1094.6" y2="1160" stroke="#2a2a2a" stroke-width="1.6"/><rect x="1078" y="1201" width="22.5" height="3.5" fill="#f8f8f6" stroke="#2a2a2a" stroke-width="1"/><path d="M 1076.25 1204.5 L 1102.5 1204.5 L 1102.5 1217.5 L 1100.5 1219.5 L 1078 1219.5 L 1076.25 1217.5 Z" fill="#f8f8f6" stroke="#2a2a2a" stroke-width="1.1" /><path d="M 1082.5 1219.5 L 1082.5 1211 L 1089.3 1207.5 L 1096 1211 L 1096 1219.5" fill="none" stroke="#2a2a2a" stroke-width="1" /><line x1="1087" y1="1209" x2="1087" y2="1219.5" stroke="#2a2a2a" stroke-width="0.9"/><line x1="1091.7" y1="1209" x2="1091.7" y2="1219.5" stroke="#2a2a2a" stroke-width="0.9"/><line x1="1034" y1="1326.5" x2="1145" y2="1326.5" stroke="#2a2a2a" stroke-width="1.1"/><rect x="1015.6" y="1338.75" width="146.9" height="18.75" fill="#dceee9" stroke="#2a2a2a" stroke-width="1.2"/><path d="M 996.25 1357.5 L 1048 1357.5 L 1052.5 1468 L 992 1468 Z" fill="#dceee9" stroke="#2a2a2a" stroke-width="1.2" /><path d="M 1121.25 1357.5 L 1173.75 1357.5 L 1178 1468 L 1117.5 1468 Z" fill="#dceee9" stroke="#2a2a2a" stroke-width="1.2" /><path d="M 924 1367.25 L 863.75 1468 L 945 1468 L 941.25 1367.25 Z" fill="#dceee9" stroke="#2a2a2a" stroke-width="1.2" /><line x1="924.5" y1="1367.25" x2="921.8" y2="1468" stroke="#2a2a2a" stroke-width="1.1"/><path d="M 1162.5 1339.4 L 1250 1339.4 L 1250 1347.5 L 1252.5 1347.5 L 1256.25 1467.75 L 1233.75 1467.75 L 1236.9 1357.5 L 1162.5 1357.5 Z" fill="#8d8d8d" stroke="#2a2a2a" stroke-width="1.2" /><path d="M 1001.9 1338.75 L 1015.6 1338.75 L 1015.6 1357.5 L 941.25 1357.5 L 941.25 1367.25 L 924 1367.25 L 925.6 1346.25 L 1001.9 1346.25 Z" fill="#8d8d8d" stroke="#2a2a2a" stroke-width="1.2" /><line x1="1251.5" y1="1347.5" x2="1316" y2="1468" stroke="#2a2a2a" stroke-width="1.1"/><line x1="1253.2" y1="1370" x2="1303" y2="1468" stroke="#2a2a2a" stroke-width="1.1"/><path d="M 835.5 1492.75 L 835.5 1476 Q 835.5 1468 843.5 1468 L 1334.5 1468 Q 1342.5 1468 1342.5 1476 L 1342.5 1492.75 Z" fill="#8d8d8d" stroke="#2a2a2a" stroke-width="1.2" /><rect x="982.5" y="1468" width="218.75" height="11" fill="#dceee9" stroke="#2a2a2a" stroke-width="1.1"/><path d="M 852.5 1492.75 L 852.5 1486 Q 852.5 1479.3 859 1479.3 L 1321 1479.3 Q 1327.5 1479.3 1327.5 1486 L 1327.5 1492.75 Z" fill="#dceee9" stroke="#2a2a2a" stroke-width="1.1" /><path d="M 1266.8 1073 L 1266.8 1150.0 L 1269.8 1150.0 L 1275.2 1155.5 L 1280.6000000000001 1150.0 L 1283.6000000000001 1150.0 L 1283.6000000000001 1073 Z" fill="#f6f6f4" stroke="#2a2a2a" stroke-width="1.1" /><line x1="1268.2" y1="1113" x2="1268.2" y2="1150.0" stroke="#2a2a2a" stroke-width="2.2"/><line x1="1282.2" y1="1113" x2="1282.2" y2="1150.0" stroke="#2a2a2a" stroke-width="2.2"/><line x1="1266.8" y1="1141.5" x2="1283.6000000000001" y2="1141.5" stroke="#2a2a2a" stroke-width="1"/><line x1="1266.8" y1="1150.0" x2="1283.6000000000001" y2="1150.0" stroke="#2a2a2a" stroke-width="1"/><path d="M 1260.7 1073 L 1260.7 1065.0 L 1262.2 1063.5 L 1288.2 1063.5 L 1289.7 1065.0 L 1289.7 1073 Z" fill="#f6f6f4" stroke="#2a2a2a" stroke-width="1.1" /><line x1="1267.66" y1="1063.5" x2="1267.66" y2="1073" stroke="#2a2a2a" stroke-width="1"/><line x1="1282.74" y1="1063.5" x2="1282.74" y2="1073" stroke="#2a2a2a" stroke-width="1"/><line x1="1264" y1="1077.5" x2="1266.5" y2="1077.5" stroke="#2a2a2a" stroke-width="1"/><line x1="1284" y1="1077.5" x2="1286.5" y2="1077.5" stroke="#2a2a2a" stroke-width="1"/><line x1="1264" y1="1095.6" x2="1266.5" y2="1095.6" stroke="#2a2a2a" stroke-width="1"/><line x1="1284" y1="1095.6" x2="1286.5" y2="1095.6" stroke="#2a2a2a" stroke-width="1"/><line x1="1264" y1="1113.5" x2="1266.5" y2="1113.5" stroke="#2a2a2a" stroke-width="1"/><line x1="1284" y1="1113.5" x2="1286.5" y2="1113.5" stroke="#2a2a2a" stroke-width="1"/><path d="M 1205.1 1357.5 L 1205.1 1301.75 L 1208.1 1301.75 L 1213.6 1296.25 L 1219.1 1301.75 L 1222.1 1301.75 L 1222.1 1357.5 Z" fill="#f6f6f4" stroke="#2a2a2a" stroke-width="1.1" /><line x1="1206.5" y1="1301.75" x2="1206.5" y2="1339" stroke="#2a2a2a" stroke-width="2.2"/><line x1="1220.6999999999998" y1="1301.75" x2="1220.6999999999998" y2="1339" stroke="#2a2a2a" stroke-width="2.2"/><line x1="1205.1" y1="1310.25" x2="1222.1" y2="1310.25" stroke="#2a2a2a" stroke-width="1"/><line x1="1205.1" y1="1301.75" x2="1222.1" y2="1301.75" stroke="#2a2a2a" stroke-width="1"/><rect x="1200.8" y="1357.5" width="25.6" height="3.0" fill="#f6f6f4" stroke="#2a2a2a" stroke-width="1"/><line x1="1212.3999999999999" y1="1357.5" x2="1212.3999999999999" y2="1360.5" stroke="#2a2a2a" stroke-width="0.9"/><line x1="1215.3999999999999" y1="1357.5" x2="1215.3999999999999" y2="1360.5" stroke="#2a2a2a" stroke-width="0.9"/><path d="M 1199.3 1360.5 L 1199.3 1370.5 L 1200.8 1372 L 1226.3999999999999 1372 L 1227.8999999999999 1370.5 L 1227.8999999999999 1360.5 Z" fill="#f6f6f4" stroke="#2a2a2a" stroke-width="1.1" /><line x1="1206.164" y1="1360.5" x2="1206.164" y2="1372" stroke="#2a2a2a" stroke-width="1"/><line x1="1221.0359999999998" y1="1360.5" x2="1221.0359999999998" y2="1372" stroke="#2a2a2a" stroke-width="1"/><rect x="1201.25" y="963.5" width="15.75" height="95.25" fill="#fbfbf8" stroke="#2a2a2a" stroke-width="1.2"/><rect x="1193" y="952.5" width="32.6" height="10.5" fill="#fbfbf8" stroke="#2a2a2a" stroke-width="1.1"/><line x1="1201.5" y1="952.5" x2="1201.5" y2="963" stroke="#2a2a2a" stroke-width="1"/><line x1="1217" y1="952.5" x2="1217" y2="963" stroke="#2a2a2a" stroke-width="1"/><rect x="1189.4" y="963" width="39.6" height="3" fill="#fbfbf8" stroke="#2a2a2a" stroke-width="1"/><path d="M 1203.7 1058.75 L 1203.7 1062.5 Q 1205.0 1064 1206.3 1062.5 L 1206.3 1058.75" fill="#fbfbf8" stroke="#2a2a2a" stroke-width="1" /><path d="M 1211.9 1058.75 L 1211.9 1062.5 Q 1213.2 1064 1214.5 1062.5 L 1214.5 1058.75" fill="#fbfbf8" stroke="#2a2a2a" stroke-width="1" /><path d="M 1267 497.5 L 1267 575.5 L 1270 575.5 L 1276 581 L 1282 575.5 L 1285 575.5 L 1285 497.5 Z" fill="#f6f6f4" stroke="#2a2a2a" stroke-width="1.1" /><line x1="1268.4" y1="533" x2="1268.4" y2="575.5" stroke="#2a2a2a" stroke-width="2.2"/><line x1="1283.6" y1="533" x2="1283.6" y2="575.5" stroke="#2a2a2a" stroke-width="2.2"/><line x1="1267" y1="567" x2="1285" y2="567" stroke="#2a2a2a" stroke-width="1"/><line x1="1267" y1="575.5" x2="1285" y2="575.5" stroke="#2a2a2a" stroke-width="1"/><path d="M 1259.7 493.75 L 1259.7 482.5 L 1261.2 481 L 1290.8 481 L 1292.3 482.5 L 1292.3 493.75 Z" fill="#f6f6f4" stroke="#2a2a2a" stroke-width="1.1" /><rect x="1261.2" y="493.75" width="29.6" height="3.75" fill="#f6f6f4" stroke="#2a2a2a" stroke-width="1"/><line x1="1274.8" y1="493.75" x2="1274.8" y2="497.5" stroke="#2a2a2a" stroke-width="0.9"/><line x1="1277.8" y1="493.75" x2="1277.8" y2="497.5" stroke="#2a2a2a" stroke-width="0.9"/><line x1="1267.524" y1="481" x2="1267.524" y2="493.75" stroke="#2a2a2a" stroke-width="1"/><line x1="1284.476" y1="481" x2="1284.476" y2="493.75" stroke="#2a2a2a" stroke-width="1"/><line x1="1264.5" y1="519.4" x2="1267" y2="519.4" stroke="#2a2a2a" stroke-width="1"/><line x1="1285" y1="519.4" x2="1287.5" y2="519.4" stroke="#2a2a2a" stroke-width="1"/><line x1="1264.5" y1="533.75" x2="1267" y2="533.75" stroke="#2a2a2a" stroke-width="1"/><line x1="1285" y1="533.75" x2="1287.5" y2="533.75" stroke="#2a2a2a" stroke-width="1"/><path d="M 1267 981 L 1267 914.5 L 1270 914.5 L 1276 909 L 1282 914.5 L 1285 914.5 L 1285 981 Z" fill="#f6f6f4" stroke="#2a2a2a" stroke-width="1.1" /><line x1="1268.4" y1="914.5" x2="1268.4" y2="945" stroke="#2a2a2a" stroke-width="2.2"/><line x1="1283.6" y1="914.5" x2="1283.6" y2="945" stroke="#2a2a2a" stroke-width="2.2"/><line x1="1267" y1="923" x2="1285" y2="923" stroke="#2a2a2a" stroke-width="1"/><line x1="1267" y1="914.5" x2="1285" y2="914.5" stroke="#2a2a2a" stroke-width="1"/><rect x="1261.2" y="981" width="29.6" height="3" fill="#f6f6f4" stroke="#2a2a2a" stroke-width="1"/><line x1="1274.8" y1="981" x2="1274.8" y2="984" stroke="#2a2a2a" stroke-width="0.9"/><line x1="1277.8" y1="981" x2="1277.8" y2="984" stroke="#2a2a2a" stroke-width="0.9"/><path d="M 1259.7 984 L 1259.7 991.0 L 1261.2 992.5 L 1290.8 992.5 L 1292.3 991.0 L 1292.3 984 Z" fill="#f6f6f4" stroke="#2a2a2a" stroke-width="1.1" /><line x1="1267.524" y1="984" x2="1267.524" y2="992.5" stroke="#2a2a2a" stroke-width="1"/><line x1="1284.476" y1="984" x2="1284.476" y2="992.5" stroke="#2a2a2a" stroke-width="1"/><text x="1368" y="225.5" font-size="38.7" font-weight="normal" fill="#1c1c1c" text-anchor="start" >47</text><line x1="1357.5" y1="233" x2="1427.5" y2="233" stroke="#2a2a2a" stroke-width="1.3"/><polyline points="1357.5,233 1184.5,290" fill="none" stroke="#2a2a2a" stroke-width="1.3"/><text x="1372.5" y="290.5" font-size="38.7" font-weight="normal" fill="#1c1c1c" text-anchor="start" >03</text><line x1="1360" y1="298.75" x2="1427.5" y2="298.75" stroke="#2a2a2a" stroke-width="1.3"/><polyline points="1360,298.75 1215.75,338.25" fill="none" stroke="#2a2a2a" stroke-width="1.3"/><text x="1372.5" y="366.5" font-size="38.7" font-weight="normal" fill="#1c1c1c" text-anchor="start" >05</text><line x1="1360" y1="374.5" x2="1427.5" y2="374.5" stroke="#2a2a2a" stroke-width="1.3"/><polyline points="1360,374.5 1243.25,391.25" fill="none" stroke="#2a2a2a" stroke-width="1.3"/><text x="1372.5" y="443" font-size="38.7" font-weight="normal" fill="#1c1c1c" text-anchor="start" >33</text><line x1="1360" y1="452" x2="1427.5" y2="452" stroke="#2a2a2a" stroke-width="1.3"/><polyline points="1360,452 1132.5,481.75" fill="none" stroke="#2a2a2a" stroke-width="1.3"/><text x="1372.5" y="519.5" font-size="38.7" font-weight="normal" fill="#1c1c1c" text-anchor="start" >06</text><line x1="1360" y1="528.25" x2="1427.5" y2="528.25" stroke="#2a2a2a" stroke-width="1.3"/><polyline points="1360,528.25 1158.75,518.75" fill="none" stroke="#2a2a2a" stroke-width="1.3"/><text x="1344" y="593" font-size="38.7" font-weight="normal" fill="#1c1c1c" text-anchor="start" >31a</text><line x1="1327.5" y1="601.5" x2="1427.5" y2="601.5" stroke="#2a2a2a" stroke-width="1.3"/><polyline points="1327.5,601.5 1145.75,549" fill="none" stroke="#2a2a2a" stroke-width="1.3"/><text x="1374" y="661.5" font-size="38.7" font-weight="normal" fill="#1c1c1c" text-anchor="start" >11</text><line x1="1360" y1="669.5" x2="1427.5" y2="669.5" stroke="#2a2a2a" stroke-width="1.3"/><polyline points="1360,669.5 1260,679.75" fill="none" stroke="#2a2a2a" stroke-width="1.3"/><text x="1372.5" y="730.5" font-size="38.7" font-weight="normal" fill="#1c1c1c" text-anchor="start" >27</text><line x1="1360" y1="738.5" x2="1427.5" y2="738.5" stroke="#2a2a2a" stroke-width="1.3"/><polyline points="1360,738.5 1209.25,757.75" fill="none" stroke="#2a2a2a" stroke-width="1.3"/><text x="1372.5" y="805.5" font-size="38.7" font-weight="normal" fill="#1c1c1c" text-anchor="start" >28</text><line x1="1360" y1="814" x2="1427.5" y2="814" stroke="#2a2a2a" stroke-width="1.3"/><polyline points="1360,814 1126,822.25" fill="none" stroke="#2a2a2a" stroke-width="1.3"/><text x="1344" y="878" font-size="38.7" font-weight="normal" fill="#1c1c1c" text-anchor="start" >31b</text><line x1="1327.5" y1="884.75" x2="1427.5" y2="884.75" stroke="#2a2a2a" stroke-width="1.3"/><polyline points="1327.5,884.75 1149.25,929.25" fill="none" stroke="#2a2a2a" stroke-width="1.3"/><text x="1372.5" y="951" font-size="38.7" font-weight="normal" fill="#1c1c1c" text-anchor="start" >07</text><text x="1335.5" y="1010.5" font-size="38.7" font-weight="normal" fill="#1c1c1c" text-anchor="start" >S3/4</text><line x1="1343.75" y1="1018.5" x2="1427.5" y2="1018.5" stroke="#2a2a2a" stroke-width="1.3"/><polyline points="1343.75,1018.5 1210.5,1004.75" fill="none" stroke="#2a2a2a" stroke-width="1.3"/><text x="1344" y="1088" font-size="38.7" font-weight="normal" fill="#1c1c1c" text-anchor="start" >34a</text><text x="1374" y="1165.5" font-size="38.7" font-weight="normal" fill="#1c1c1c" text-anchor="start" >10</text><line x1="1360" y1="1174.25" x2="1427.5" y2="1174.25" stroke="#2a2a2a" stroke-width="1.3"/><polyline points="1360,1174.25 1184.5,1118.75" fill="none" stroke="#2a2a2a" stroke-width="1.3"/><text x="1344" y="1243.5" font-size="38.7" font-weight="normal" fill="#1c1c1c" text-anchor="start" >34b</text><line x1="1327.5" y1="1251.25" x2="1427.5" y2="1251.25" stroke="#2a2a2a" stroke-width="1.3"/><polyline points="1327.5,1251.25 1122,1106.25" fill="none" stroke="#2a2a2a" stroke-width="1.3"/><text x="1374" y="1320.5" font-size="38.7" font-weight="normal" fill="#1c1c1c" text-anchor="start" >13</text><line x1="1361" y1="1329" x2="1427.5" y2="1329" stroke="#2a2a2a" stroke-width="1.3"/><polyline points="1361,1329 1293.75,1276" fill="none" stroke="#2a2a2a" stroke-width="1.3"/><text x="1374" y="1398.5" font-size="38.7" font-weight="normal" fill="#1c1c1c" text-anchor="start" >14</text><line x1="1361" y1="1406.5" x2="1427.5" y2="1406.5" stroke="#2a2a2a" stroke-width="1.3"/><polyline points="1361,1406.5 1153.75,1281" fill="none" stroke="#2a2a2a" stroke-width="1.3"/><text x="1372.5" y="1475.5" font-size="38.7" font-weight="normal" fill="#1c1c1c" text-anchor="start" >22</text><line x1="1361" y1="1484.5" x2="1427.5" y2="1484.5" stroke="#2a2a2a" stroke-width="1.3"/><polyline points="1361,1484.5 1244.25,1409" fill="none" stroke="#2a2a2a" stroke-width="1.3"/><line x1="1362" y1="960.5" x2="1190" y2="974.25" stroke="#2a2a2a" stroke-width="1.3"/><line x1="1328.75" y1="1096" x2="1121.25" y2="1016" stroke="#2a2a2a" stroke-width="1.3"/><text x="767" y="490" font-size="39.5" font-weight="normal" fill="#1c1c1c" text-anchor="start" >S1/2</text><line x1="767" y1="501.75" x2="858.75" y2="501.75" stroke="#2a2a2a" stroke-width="1.3"/><polyline points="858.75,501.75 970,575.4" fill="none" stroke="#2a2a2a" stroke-width="1.3"/><text x="336" y="144" font-size="30" font-weight="normal" fill="#1c1c1c" text-anchor="start" >01</text><line x1="331" y1="149.5" x2="378.75" y2="149.5" stroke="#2a2a2a" stroke-width="1.2"/><line x1="378.75" y1="149.5" x2="420" y2="214.25" stroke="#2a2a2a" stroke-width="1.2"/><text x="287.5" y="657.5" font-size="31.5" font-weight="normal" fill="#1c1c1c" text-anchor="start" >01a</text><line x1="287" y1="663.25" x2="352.5" y2="663.25" stroke="#2a2a2a" stroke-width="1.2"/><line x1="352.5" y1="663.25" x2="434.25" y2="641" stroke="#2a2a2a" stroke-width="1.2"/><text x="404" y="919" font-size="32" font-weight="normal" fill="#1c1c1c" text-anchor="start" >22b</text><line x1="398.75" y1="926.25" x2="461.25" y2="926.25" stroke="#2a2a2a" stroke-width="1.2"/><line x1="398.75" y1="926.25" x2="375.75" y2="965.5" stroke="#2a2a2a" stroke-width="1.2"/><text x="160" y="1164" font-size="31" font-weight="normal" fill="#1c1c1c" text-anchor="start" >30</text><line x1="153.75" y1="1171.25" x2="202" y2="1171.25" stroke="#2a2a2a" stroke-width="1.2"/><line x1="202" y1="1171.25" x2="241.75" y2="1245.75" stroke="#2a2a2a" stroke-width="1.2"/><text x="490" y="1190.5" font-size="31" font-weight="normal" fill="#1c1c1c" text-anchor="start" >17</text><line x1="487.5" y1="1198.75" x2="528.75" y2="1198.75" stroke="#2a2a2a" stroke-width="1.2"/><line x1="487.5" y1="1198.75" x2="465.5" y2="1255.5" stroke="#2a2a2a" stroke-width="1.2"/><text x="149" y="1348" font-size="31" font-weight="normal" fill="#1c1c1c" text-anchor="start" >22a</text><line x1="146.25" y1="1357" x2="206.25" y2="1357" stroke="#2a2a2a" stroke-width="1.2"/><line x1="206.25" y1="1357" x2="243.75" y2="1318" stroke="#2a2a2a" stroke-width="1.2"/><circle cx="1184.5" cy="290" r="3.6" fill="#e8291c"/><circle cx="1215.75" cy="338.25" r="3.6" fill="#e8291c"/><circle cx="1243.25" cy="391.25" r="3.6" fill="#e8291c"/><circle cx="1132.5" cy="481.75" r="3.6" fill="#e8291c"/><circle cx="1158.75" cy="518.75" r="3.6" fill="#e8291c"/><circle cx="1145.75" cy="549" r="3.6" fill="#e8291c"/><circle cx="1260" cy="679.75" r="3.6" fill="#e8291c"/><circle cx="1209.25" cy="757.75" r="3.6" fill="#e8291c"/><circle cx="1126" cy="822.25" r="3.6" fill="#e8291c"/><circle cx="1149.25" cy="929.25" r="3.6" fill="#e8291c"/><circle cx="1210.5" cy="1004.75" r="3.6" fill="#e8291c"/><circle cx="1184.5" cy="1118.75" r="3.6" fill="#e8291c"/><circle cx="1122" cy="1106.25" r="3.6" fill="#e8291c"/><circle cx="1293.75" cy="1276" r="3.6" fill="#e8291c"/><circle cx="1153.75" cy="1281" r="3.6" fill="#e8291c"/><circle cx="1244.25" cy="1409" r="3.6" fill="#e8291c"/><circle cx="1190" cy="974.25" r="3.6" fill="#e8291c"/><circle cx="1121.25" cy="1016" r="3.6" fill="#e8291c"/><circle cx="970" cy="575.4" r="3.6" fill="#e8291c"/><circle cx="420" cy="214.25" r="3.2" fill="#e8291c"/><circle cx="434.25" cy="641" r="3.2" fill="#e8291c"/><circle cx="375.75" cy="965.5" r="3.2" fill="#e8291c"/><circle cx="241.75" cy="1245.75" r="3.2" fill="#e8291c"/><circle cx="465.5" cy="1255.5" r="3.2" fill="#e8291c"/><circle cx="243.75" cy="1318" r="3.2" fill="#e8291c"/></svg></body></html>
